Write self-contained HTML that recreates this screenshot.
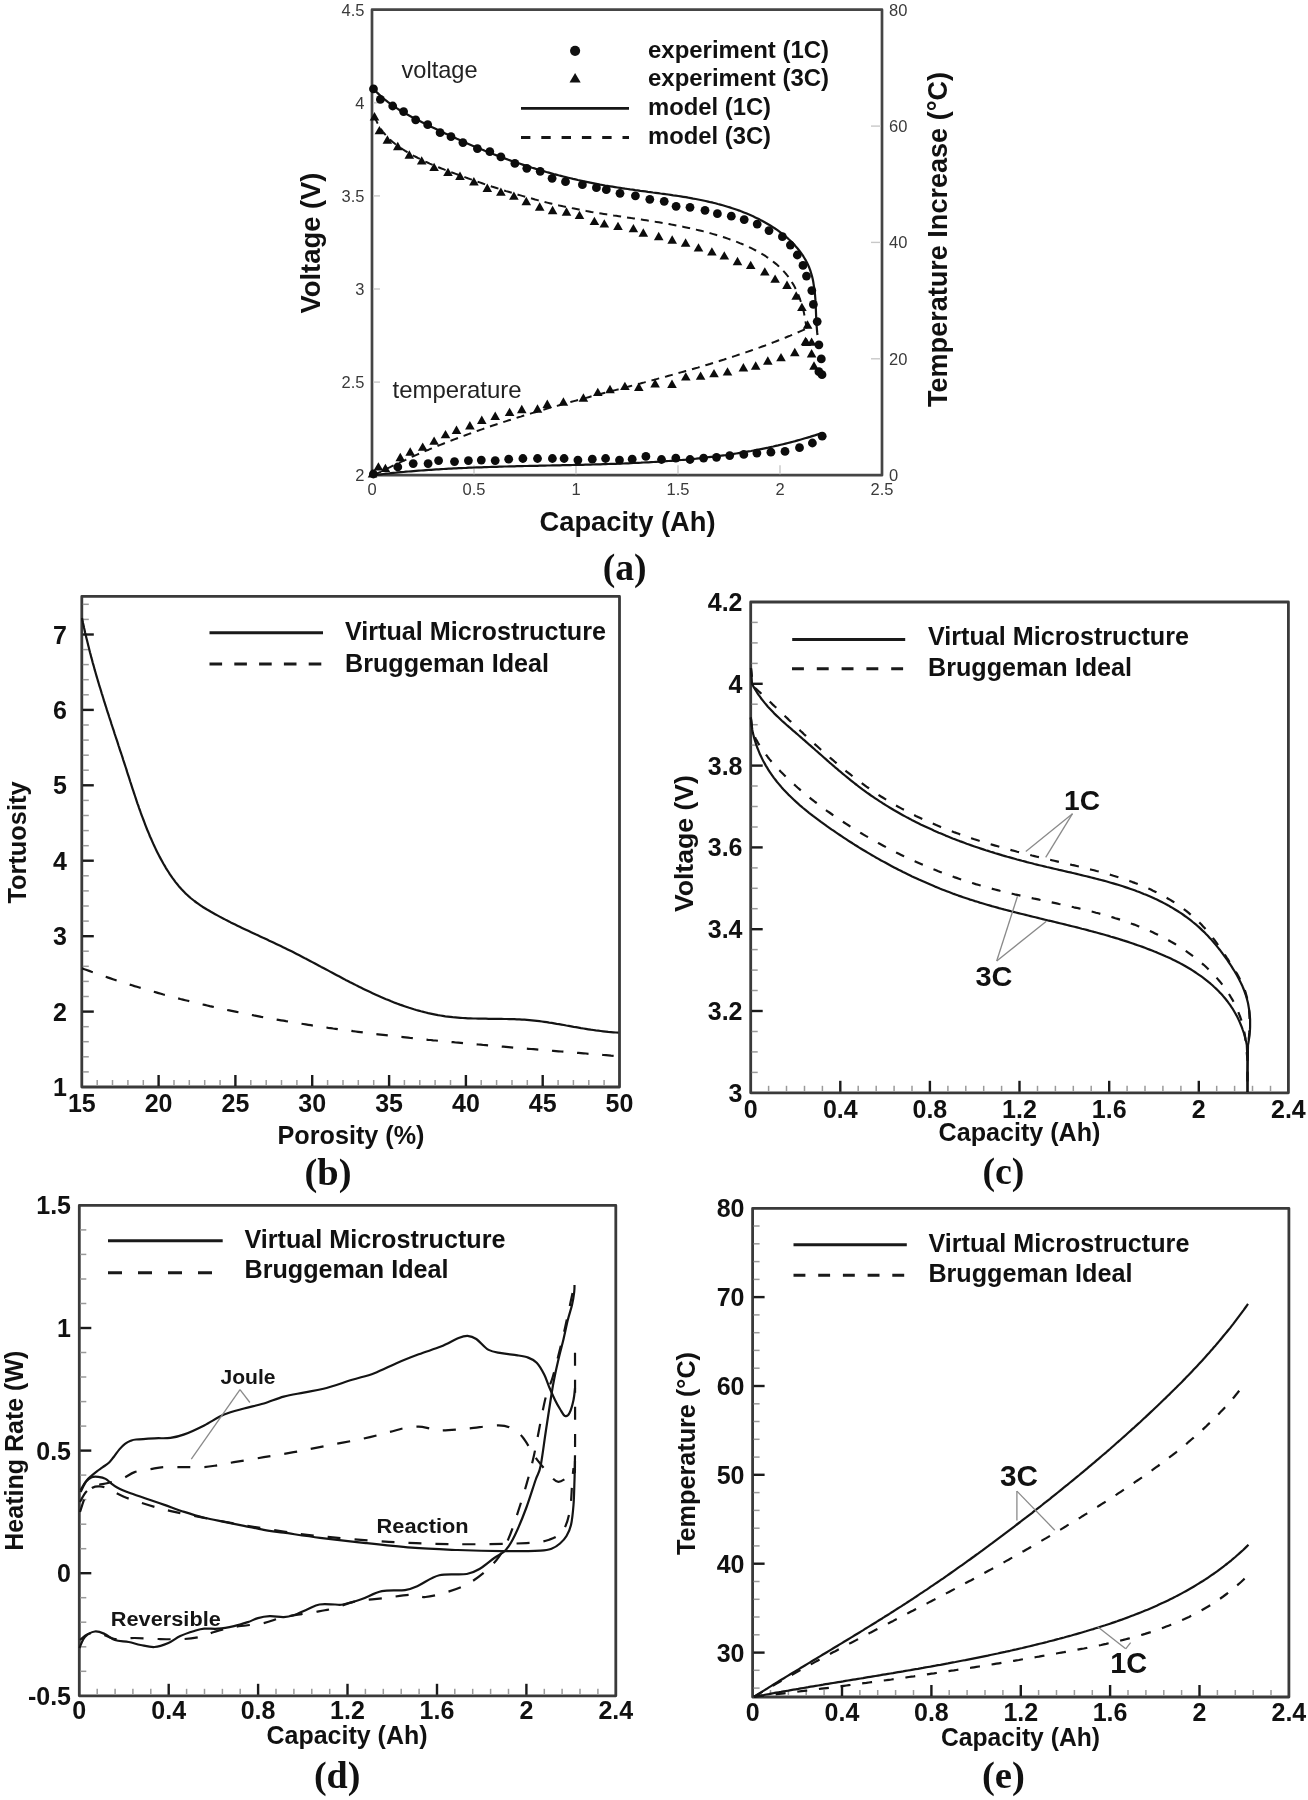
<!DOCTYPE html>
<html><head><meta charset="utf-8"><title>Figure</title>
<style>html,body{margin:0;padding:0;background:#fff;}svg{display:block;filter:blur(0.6px);}</style>
</head><body>
<svg width="1308" height="1800" viewBox="0 0 1308 1800">
<rect width="1308" height="1800" fill="#fff"/>
<rect x="372" y="9.7" width="510" height="465.5" fill="none" stroke="#454545" stroke-width="2.7" stroke-linejoin="round"/>
<line x1="373" y1="382.1" x2="380" y2="382.1" stroke="#c8c8c8" stroke-width="1.4" stroke-linecap="butt"/>
<line x1="373" y1="289" x2="380" y2="289" stroke="#c8c8c8" stroke-width="1.4" stroke-linecap="butt"/>
<line x1="373" y1="195.9" x2="380" y2="195.9" stroke="#c8c8c8" stroke-width="1.4" stroke-linecap="butt"/>
<line x1="373" y1="102.8" x2="380" y2="102.8" stroke="#c8c8c8" stroke-width="1.4" stroke-linecap="butt"/>
<line x1="474" y1="474.2" x2="474" y2="465.2" stroke="#c8c8c8" stroke-width="1.4" stroke-linecap="butt"/>
<line x1="576" y1="474.2" x2="576" y2="465.2" stroke="#c8c8c8" stroke-width="1.4" stroke-linecap="butt"/>
<line x1="678" y1="474.2" x2="678" y2="465.2" stroke="#c8c8c8" stroke-width="1.4" stroke-linecap="butt"/>
<line x1="780" y1="474.2" x2="780" y2="465.2" stroke="#c8c8c8" stroke-width="1.4" stroke-linecap="butt"/>
<line x1="881" y1="358.8" x2="871" y2="358.8" stroke="#c8c8c8" stroke-width="1.4" stroke-linecap="butt"/>
<line x1="881" y1="242.4" x2="871" y2="242.4" stroke="#c8c8c8" stroke-width="1.4" stroke-linecap="butt"/>
<line x1="881" y1="126.1" x2="871" y2="126.1" stroke="#c8c8c8" stroke-width="1.4" stroke-linecap="butt"/>
<text x="364.5" y="481.2" font-family="Liberation Sans, sans-serif" font-size="16.5" font-weight="normal" text-anchor="end" fill="#3a3a3a">2</text>
<text x="364.5" y="388.1" font-family="Liberation Sans, sans-serif" font-size="16.5" font-weight="normal" text-anchor="end" fill="#3a3a3a">2.5</text>
<text x="364.5" y="295" font-family="Liberation Sans, sans-serif" font-size="16.5" font-weight="normal" text-anchor="end" fill="#3a3a3a">3</text>
<text x="364.5" y="201.9" font-family="Liberation Sans, sans-serif" font-size="16.5" font-weight="normal" text-anchor="end" fill="#3a3a3a">3.5</text>
<text x="364.5" y="108.8" font-family="Liberation Sans, sans-serif" font-size="16.5" font-weight="normal" text-anchor="end" fill="#3a3a3a">4</text>
<text x="364.5" y="15.7" font-family="Liberation Sans, sans-serif" font-size="16.5" font-weight="normal" text-anchor="end" fill="#3a3a3a">4.5</text>
<text x="372" y="495.2" font-family="Liberation Sans, sans-serif" font-size="16.5" font-weight="normal" text-anchor="middle" fill="#3a3a3a">0</text>
<text x="474" y="495.2" font-family="Liberation Sans, sans-serif" font-size="16.5" font-weight="normal" text-anchor="middle" fill="#3a3a3a">0.5</text>
<text x="576" y="495.2" font-family="Liberation Sans, sans-serif" font-size="16.5" font-weight="normal" text-anchor="middle" fill="#3a3a3a">1</text>
<text x="678" y="495.2" font-family="Liberation Sans, sans-serif" font-size="16.5" font-weight="normal" text-anchor="middle" fill="#3a3a3a">1.5</text>
<text x="780" y="495.2" font-family="Liberation Sans, sans-serif" font-size="16.5" font-weight="normal" text-anchor="middle" fill="#3a3a3a">2</text>
<text x="882" y="495.2" font-family="Liberation Sans, sans-serif" font-size="16.5" font-weight="normal" text-anchor="middle" fill="#3a3a3a">2.5</text>
<text x="889" y="481.2" font-family="Liberation Sans, sans-serif" font-size="16.5" font-weight="normal" text-anchor="start" fill="#3a3a3a">0</text>
<text x="889" y="364.8" font-family="Liberation Sans, sans-serif" font-size="16.5" font-weight="normal" text-anchor="start" fill="#3a3a3a">20</text>
<text x="889" y="248.4" font-family="Liberation Sans, sans-serif" font-size="16.5" font-weight="normal" text-anchor="start" fill="#3a3a3a">40</text>
<text x="889" y="132.1" font-family="Liberation Sans, sans-serif" font-size="16.5" font-weight="normal" text-anchor="start" fill="#3a3a3a">60</text>
<text x="889" y="15.7" font-family="Liberation Sans, sans-serif" font-size="16.5" font-weight="normal" text-anchor="start" fill="#3a3a3a">80</text>
<text x="627.5" y="530.5" font-family="Liberation Sans, sans-serif" font-size="27" font-weight="bold" text-anchor="middle" fill="#111" textLength="176" lengthAdjust="spacingAndGlyphs">Capacity (Ah)</text>
<text x="319.8" y="243" font-family="Liberation Sans, sans-serif" font-size="27" font-weight="bold" text-anchor="middle" fill="#111" textLength="141" lengthAdjust="spacingAndGlyphs" transform="rotate(-90 319.8 243)">Voltage (V)</text>
<text x="946.5" y="239.5" font-family="Liberation Sans, sans-serif" font-size="27" font-weight="bold" text-anchor="middle" fill="#111" textLength="335" lengthAdjust="spacingAndGlyphs" transform="rotate(-90 946.5 239.5)">Temperature Increase (&#176;C)</text>
<text x="624.7" y="580.3" font-family="Liberation Serif, sans-serif" font-size="37" font-weight="bold" text-anchor="middle" fill="#111" textLength="44" lengthAdjust="spacingAndGlyphs">(a)</text>
<text x="401.5" y="78" font-family="Liberation Sans, sans-serif" font-size="24" font-weight="normal" text-anchor="start" fill="#222" textLength="76" lengthAdjust="spacingAndGlyphs">voltage</text>
<text x="392.5" y="397.5" font-family="Liberation Sans, sans-serif" font-size="24" font-weight="normal" text-anchor="start" fill="#222" textLength="129" lengthAdjust="spacingAndGlyphs">temperature</text>
<text x="648" y="57.6" font-family="Liberation Sans, sans-serif" font-size="24" font-weight="bold" text-anchor="start" fill="#111" textLength="181" lengthAdjust="spacingAndGlyphs">experiment (1C)</text>
<text x="648" y="86.2" font-family="Liberation Sans, sans-serif" font-size="24" font-weight="bold" text-anchor="start" fill="#111" textLength="181" lengthAdjust="spacingAndGlyphs">experiment (3C)</text>
<text x="648" y="115" font-family="Liberation Sans, sans-serif" font-size="24" font-weight="bold" text-anchor="start" fill="#111" textLength="123" lengthAdjust="spacingAndGlyphs">model (1C)</text>
<text x="648" y="143.8" font-family="Liberation Sans, sans-serif" font-size="24" font-weight="bold" text-anchor="start" fill="#111" textLength="123" lengthAdjust="spacingAndGlyphs">model (3C)</text>
<circle cx="575.1" cy="50.8" r="5.1" fill="#111"/>
<path d="M569.5,82.6 L580.7,82.6 L575.1,73 Z" fill="#111"/>
<line x1="521" y1="108.4" x2="629" y2="108.4" stroke="#161616" stroke-width="2.8" stroke-linecap="butt"/>
<line x1="521" y1="137.5" x2="629" y2="137.5" stroke="#161616" stroke-width="2.8" stroke-dasharray="9.4 10.9" stroke-linecap="butt"/>
<path d="M373.5,88.8 L375.2,90.6 L376.9,92.4 L378.7,94.1 L380.5,95.8 L382.4,97.5 L384.2,99.1 L386.2,100.6 L388.1,102.1 L390.1,103.6 L392.1,105 L394.1,106.4 L396.2,107.8 L398.3,109.2 L400.4,110.5 L402.5,111.8 L404.7,113 L406.9,114.3 L409.1,115.5 L411.3,116.7 L413.5,117.9 L415.7,119 L418,120.2 L420.2,121.3 L422.5,122.5 L424.7,123.6 L427,124.7 L429.3,125.8 L431.6,126.9 L433.9,128 L436.1,129.1 L438.4,130.2 L440.7,131.3 L443,132.4 L445.3,133.5 L447.6,134.6 L449.9,135.6 L452.2,136.7 L454.6,137.7 L456.9,138.8 L459.2,139.8 L461.5,140.9 L463.8,141.9 L466.1,142.9 L468.5,143.9 L470.8,144.9 L473.1,145.9 L475.5,146.9 L477.8,147.9 L480.1,148.9 L482.5,149.8 L484.8,150.8 L487.2,151.7 L489.5,152.6 L491.9,153.6 L494.2,154.5 L496.6,155.4 L498.9,156.3 L501.3,157.2 L503.6,158 L506,158.9 L508.3,159.7 L510.7,160.6 L513.1,161.4 L515.4,162.2 L517.8,163 L520.2,163.8 L522.6,164.6 L524.9,165.4 L527.3,166.2 L529.7,166.9 L532.1,167.7 L534.5,168.4 L536.8,169.2 L539.2,169.9 L541.6,170.6 L544,171.3 L546.4,172 L548.8,172.6 L551.2,173.3 L553.7,174 L556.1,174.6 L558.5,175.3 L560.9,175.9 L563.3,176.5 L565.7,177.1 L568.2,177.7 L570.6,178.3 L573,178.9 L575.5,179.4 L577.9,180 L580.4,180.5 L582.8,181.1 L585.3,181.6 L587.7,182.1 L590.2,182.6 L592.7,183.1 L595.1,183.6 L597.6,184.1 L600.1,184.6 L602.6,185 L605.1,185.5 L607.5,185.9 L610,186.3 L612.5,186.7 L615,187.1 L617.5,187.5 L620.1,187.9 L622.6,188.3 L625.1,188.7 L627.6,189 L630.1,189.4 L632.7,189.7 L635.2,190.1 L637.7,190.4 L640.3,190.8 L642.8,191.1 L645.3,191.4 L647.9,191.8 L650.4,192.1 L652.9,192.5 L655.5,192.8 L658,193.1 L660.5,193.5 L663.1,193.8 L665.6,194.2 L668.1,194.5 L670.7,194.9 L673.2,195.3 L675.7,195.6 L678.2,196 L680.7,196.4 L683.2,196.8 L685.8,197.2 L688.3,197.7 L690.8,198.1 L693.2,198.6 L695.7,199 L698.2,199.5 L700.7,200 L703.2,200.5 L705.6,201 L708.1,201.6 L710.5,202.2 L713,202.7 L715.4,203.3 L717.8,204 L720.3,204.6 L722.7,205.3 L725.1,206 L727.5,206.7 L729.8,207.4 L732.2,208.2 L734.6,209 L736.9,209.8 L739.3,210.6 L741.6,211.5 L743.9,212.4 L746.2,213.3 L748.5,214.3 L750.8,215.3 L753.1,216.3 L755.3,217.4 L757.6,218.5 L759.8,219.6 L762,220.8 L764.2,222 L766.4,223.2 L768.6,224.5 L770.7,225.8 L772.9,227.1 L775,228.5 L777.1,229.9 L779.1,231.4 L781.1,232.9 L783.1,234.4 L785.1,236 L787,237.6 L788.8,239.3 L790.7,241 L792.4,242.8 L794.2,244.5 L795.8,246.4 L797.4,248.2 L799,250.2 L800.5,252.1 L801.9,254.1 L803.3,256.2 L804.5,258.2 L805.8,260.4 L806.9,262.5 L808,264.8 L809,267 L809.9,269.3 L810.7,271.7 L811.4,274.1 L812.1,276.5 L812.7,279 L813.2,281.5 L813.6,284.1 L814,286.6 L814.4,289.2 L814.7,291.8 L815,294.4 L815.2,297 L815.4,299.7 L815.5,302.3 L815.7,304.9 L815.8,307.5 L815.9,310.2 L816,312.8 L816.1,315.3 L816.2,317.9 L816.4,320.4 L816.5,323 L816.6,325.4 L816.8,327.9 L817,330.3 L817.2,332.7 L817.5,335" fill="none" stroke="#141414" stroke-width="2.2" stroke-linejoin="round" />
<path d="M374.5,116.3 L375.4,118.8 L376.5,121.1 L377.6,123.4 L378.8,125.6 L380.1,127.7 L381.5,129.8 L382.9,131.8 L384.5,133.7 L386.1,135.5 L387.7,137.3 L389.5,139 L391.3,140.7 L393.1,142.3 L395,143.8 L397,145.3 L399,146.8 L401,148.2 L403.1,149.5 L405.2,150.9 L407.3,152.2 L409.5,153.4 L411.7,154.7 L413.9,155.9 L416.1,157 L418.3,158.2 L420.6,159.3 L422.8,160.4 L425.1,161.5 L427.4,162.5 L429.7,163.6 L432.1,164.6 L434.4,165.6 L436.8,166.6 L439.1,167.5 L441.5,168.5 L443.9,169.4 L446.2,170.3 L448.6,171.3 L451,172.2 L453.4,173 L455.8,173.9 L458.2,174.8 L460.6,175.7 L463,176.5 L465.4,177.4 L467.8,178.3 L470.2,179.1 L472.6,179.9 L475,180.8 L477.3,181.6 L479.7,182.4 L482.1,183.2 L484.5,184.1 L486.9,184.9 L489.3,185.7 L491.7,186.5 L494.1,187.2 L496.5,188 L498.9,188.8 L501.3,189.6 L503.7,190.3 L506.1,191.1 L508.5,191.8 L510.9,192.5 L513.3,193.3 L515.7,194 L518.1,194.7 L520.5,195.4 L523,196.1 L525.4,196.8 L527.8,197.5 L530.2,198.1 L532.6,198.8 L535,199.5 L537.5,200.1 L539.9,200.7 L542.3,201.4 L544.7,202 L547.2,202.6 L549.6,203.2 L552,203.8 L554.5,204.4 L556.9,204.9 L559.3,205.5 L561.8,206 L564.2,206.6 L566.7,207.1 L569.1,207.6 L571.6,208.1 L574.1,208.6 L576.5,209.1 L579,209.6 L581.5,210.1 L583.9,210.5 L586.4,211 L588.9,211.4 L591.4,211.9 L593.8,212.3 L596.3,212.7 L598.8,213.1 L601.3,213.5 L603.8,213.9 L606.3,214.3 L608.8,214.7 L611.3,215.1 L613.8,215.5 L616.3,215.8 L618.8,216.2 L621.3,216.6 L623.8,216.9 L626.3,217.3 L628.8,217.7 L631.3,218.1 L633.8,218.4 L636.3,218.8 L638.8,219.2 L641.4,219.5 L643.9,219.9 L646.4,220.3 L648.9,220.7 L651.4,221.1 L653.9,221.5 L656.4,221.9 L658.9,222.3 L661.4,222.7 L663.9,223.1 L666.4,223.6 L668.9,224 L671.4,224.5 L673.9,224.9 L676.3,225.4 L678.8,225.9 L681.3,226.4 L683.8,226.9 L686.3,227.4 L688.7,227.9 L691.2,228.5 L693.7,229 L696.1,229.6 L698.6,230.2 L701.1,230.8 L703.5,231.4 L706,232 L708.4,232.7 L710.9,233.4 L713.3,234.1 L715.7,234.8 L718.1,235.5 L720.6,236.3 L723,237 L725.4,237.8 L727.8,238.6 L730.2,239.5 L732.6,240.3 L735,241.2 L737.4,242.1 L739.7,243.1 L742.1,244 L744.4,245 L746.7,246.1 L749,247.1 L751.3,248.2 L753.6,249.3 L755.8,250.5 L758,251.7 L760.2,252.9 L762.3,254.1 L764.5,255.4 L766.5,256.8 L768.6,258.2 L770.6,259.6 L772.5,261.1 L774.4,262.6 L776.3,264.1 L778.1,265.7 L779.9,267.4 L781.6,269.1 L783.3,270.9 L784.9,272.7 L786.5,274.5 L788,276.4 L789.4,278.4 L790.8,280.4 L792.1,282.5 L793.4,284.6 L794.6,286.8 L795.7,289 L796.8,291.2 L797.8,293.5 L798.8,295.9 L799.7,298.3 L800.5,300.7 L801.3,303.1 L802.1,305.6 L802.7,308.1 L803.4,310.6 L804,313.1 L804.5,315.7 L805,318.2 L805.4,320.8 L805.8,323.4 L806.2,326 L806.5,328.6" fill="none" stroke="#141414" stroke-width="2" stroke-dasharray="8 6" stroke-linejoin="round" />
<path d="M373.9,475.2 L376.1,474 L378.4,472.9 L380.7,471.8 L382.9,470.6 L385.2,469.5 L387.4,468.4 L389.7,467.3 L392,466.2 L394.2,465.1 L396.5,464 L398.8,462.9 L401.1,461.9 L403.4,460.8 L405.7,459.8 L407.9,458.7 L410.2,457.7 L412.5,456.6 L414.8,455.6 L417.1,454.6 L419.4,453.6 L421.7,452.6 L424.1,451.6 L426.4,450.6 L428.7,449.7 L431,448.7 L433.3,447.7 L435.7,446.8 L438,445.8 L440.3,444.9 L442.6,444 L445,443 L447.3,442.1 L449.6,441.2 L452,440.3 L454.3,439.4 L456.7,438.5 L459,437.6 L461.4,436.7 L463.7,435.9 L466.1,435 L468.4,434.1 L470.8,433.3 L473.2,432.4 L475.5,431.6 L477.9,430.7 L480.3,429.9 L482.6,429.1 L485,428.3 L487.4,427.4 L489.7,426.6 L492.1,425.8 L494.5,425 L496.9,424.2 L499.3,423.4 L501.7,422.7 L504,421.9 L506.4,421.1 L508.8,420.3 L511.2,419.6 L513.6,418.8 L516,418.1 L518.4,417.3 L520.8,416.6 L523.2,415.8 L525.6,415.1 L528,414.3 L530.4,413.6 L532.8,412.9 L535.2,412.2 L537.6,411.5 L540,410.7 L542.5,410 L544.9,409.3 L547.3,408.6 L549.7,407.9 L552.1,407.2 L554.5,406.6 L557,405.9 L559.4,405.2 L561.8,404.5 L564.2,403.8 L566.6,403.2 L569.1,402.5 L571.5,401.8 L573.9,401.1 L576.3,400.5 L578.8,399.8 L581.2,399.2 L583.6,398.5 L586.1,397.9 L588.5,397.2 L590.9,396.5 L593.4,395.9 L595.8,395.3 L598.2,394.6 L600.7,394 L603.1,393.3 L605.5,392.7 L608,392 L610.4,391.4 L612.8,390.7 L615.3,390.1 L617.7,389.5 L620.1,388.8 L622.6,388.2 L625,387.5 L627.4,386.9 L629.9,386.2 L632.3,385.6 L634.7,385 L637.2,384.3 L639.6,383.7 L642,383 L644.5,382.4 L646.9,381.7 L649.3,381.1 L651.8,380.4 L654.2,379.8 L656.6,379.1 L659,378.4 L661.5,377.8 L663.9,377.1 L666.3,376.5 L668.7,375.8 L671.2,375.1 L673.6,374.5 L676,373.8 L678.4,373.1 L680.9,372.4 L683.3,371.7 L685.7,371 L688.1,370.4 L690.5,369.7 L692.9,369 L695.4,368.3 L697.8,367.6 L700.2,366.8 L702.6,366.1 L705,365.4 L707.4,364.7 L709.8,364 L712.2,363.2 L714.6,362.5 L717,361.7 L719.4,361 L721.8,360.2 L724.2,359.5 L726.6,358.7 L729,358 L731.4,357.2 L733.8,356.4 L736.1,355.6 L738.5,354.8 L740.9,354 L743.3,353.2 L745.7,352.4 L748,351.6 L750.4,350.8 L752.8,349.9 L755.1,349.1 L757.5,348.2 L759.9,347.4 L762.2,346.5 L764.6,345.7 L766.9,344.8 L769.3,343.9 L771.6,343 L774,342.1 L776.3,341.2 L778.7,340.3 L781,339.4 L783.3,338.4 L785.7,337.5 L788,336.5 L790.3,335.6 L792.6,334.6 L795,333.6 L797.3,332.6 L799.6,331.6 L801.9,330.6 L804.2,329.6 L806.5,328.6" fill="none" stroke="#141414" stroke-width="2" stroke-dasharray="8 6" stroke-linejoin="round" />
<path d="M373.4,475.2 L375.9,474.9 L378.4,474.6 L380.9,474.3 L383.4,474 L385.9,473.7 L388.4,473.5 L390.9,473.2 L393.4,472.9 L395.9,472.7 L398.4,472.4 L400.9,472.2 L403.5,472 L406,471.7 L408.5,471.5 L411,471.3 L413.5,471.1 L416,470.9 L418.5,470.7 L421,470.5 L423.6,470.3 L426.1,470.1 L428.6,469.9 L431.1,469.8 L433.6,469.6 L436.2,469.4 L438.7,469.3 L441.2,469.1 L443.7,469 L446.2,468.8 L448.8,468.7 L451.3,468.6 L453.8,468.4 L456.3,468.3 L458.9,468.2 L461.4,468.1 L463.9,468 L466.4,467.9 L469,467.7 L471.5,467.6 L474,467.5 L476.5,467.4 L479.1,467.3 L481.6,467.3 L484.1,467.2 L486.7,467.1 L489.2,467 L491.7,466.9 L494.2,466.8 L496.8,466.8 L499.3,466.7 L501.8,466.6 L504.4,466.5 L506.9,466.5 L509.4,466.4 L512,466.3 L514.5,466.3 L517,466.2 L519.6,466.2 L522.1,466.1 L524.6,466 L527.2,466 L529.7,465.9 L532.2,465.9 L534.8,465.8 L537.3,465.8 L539.8,465.7 L542.4,465.7 L544.9,465.6 L547.4,465.5 L550,465.5 L552.5,465.4 L555,465.4 L557.6,465.3 L560.1,465.3 L562.6,465.2 L565.2,465.2 L567.7,465.1 L570.2,465.1 L572.8,465 L575.3,464.9 L577.8,464.9 L580.4,464.8 L582.9,464.8 L585.4,464.7 L588,464.6 L590.5,464.6 L593,464.5 L595.5,464.4 L598.1,464.3 L600.6,464.3 L603.1,464.2 L605.7,464.1 L608.2,464 L610.7,463.9 L613.2,463.9 L615.8,463.8 L618.3,463.7 L620.8,463.6 L623.4,463.5 L625.9,463.4 L628.4,463.3 L630.9,463.2 L633.5,463 L636,462.9 L638.5,462.8 L641,462.7 L643.5,462.5 L646.1,462.4 L648.6,462.3 L651.1,462.1 L653.6,462 L656.1,461.8 L658.7,461.7 L661.2,461.5 L663.7,461.3 L666.2,461.2 L668.7,461 L671.2,460.8 L673.8,460.6 L676.3,460.4 L678.8,460.2 L681.3,460 L683.8,459.8 L686.3,459.6 L688.8,459.3 L691.3,459.1 L693.8,458.8 L696.3,458.6 L698.8,458.3 L701.3,458.1 L703.8,457.8 L706.3,457.5 L708.8,457.2 L711.3,456.9 L713.8,456.6 L716.3,456.3 L718.8,456 L721.3,455.7 L723.8,455.3 L726.3,455 L728.8,454.6 L731.2,454.2 L733.7,453.9 L736.2,453.5 L738.7,453.1 L741.2,452.7 L743.7,452.3 L746.1,451.9 L748.6,451.4 L751.1,451 L753.5,450.5 L756,450.1 L758.5,449.6 L761,449.1 L763.4,448.6 L765.9,448.1 L768.3,447.6 L770.8,447 L773.3,446.5 L775.7,445.9 L778.2,445.4 L780.6,444.8 L783.1,444.2 L785.5,443.6 L788,443 L790.4,442.4 L792.9,441.7 L795.3,441.1 L797.7,440.4 L800.2,439.7 L802.6,439 L805,438.3 L807.5,437.6 L809.9,436.9 L812.3,436.1 L814.7,435.4 L817.2,434.6 L819.6,433.8 L822,433" fill="none" stroke="#141414" stroke-width="2.2" stroke-linejoin="round" />
<circle cx="373.5" cy="88.9" r="4.4" fill="#0c0c0c"/>
<circle cx="380.4" cy="99.4" r="4.4" fill="#0c0c0c"/>
<circle cx="392.7" cy="106" r="4.4" fill="#0c0c0c"/>
<circle cx="403.6" cy="111.6" r="4.4" fill="#0c0c0c"/>
<circle cx="415.7" cy="119.8" r="4.4" fill="#0c0c0c"/>
<circle cx="427.7" cy="124.7" r="4.4" fill="#0c0c0c"/>
<circle cx="440.1" cy="132.7" r="4.4" fill="#0c0c0c"/>
<circle cx="451" cy="136.7" r="4.4" fill="#0c0c0c"/>
<circle cx="462.9" cy="142.6" r="4.4" fill="#0c0c0c"/>
<circle cx="477.4" cy="148.6" r="4.4" fill="#0c0c0c"/>
<circle cx="489.8" cy="151.6" r="4.4" fill="#0c0c0c"/>
<circle cx="500.9" cy="156.9" r="4.4" fill="#0c0c0c"/>
<circle cx="514.9" cy="163.4" r="4.4" fill="#0c0c0c"/>
<circle cx="526.8" cy="168.3" r="4.4" fill="#0c0c0c"/>
<circle cx="540.2" cy="171.3" r="4.4" fill="#0c0c0c"/>
<circle cx="552.1" cy="178.3" r="4.4" fill="#0c0c0c"/>
<circle cx="565.5" cy="181.7" r="4.4" fill="#0c0c0c"/>
<circle cx="582.4" cy="184.7" r="4.4" fill="#0c0c0c"/>
<circle cx="596.4" cy="187.7" r="4.4" fill="#0c0c0c"/>
<circle cx="606.3" cy="189.7" r="4.4" fill="#0c0c0c"/>
<circle cx="620" cy="193.3" r="4.4" fill="#0c0c0c"/>
<circle cx="635.4" cy="195.8" r="4.4" fill="#0c0c0c"/>
<circle cx="649.8" cy="199.3" r="4.4" fill="#0c0c0c"/>
<circle cx="664.2" cy="201.3" r="4.4" fill="#0c0c0c"/>
<circle cx="676.1" cy="206.3" r="4.4" fill="#0c0c0c"/>
<circle cx="690" cy="207.3" r="4.4" fill="#0c0c0c"/>
<circle cx="705" cy="210.3" r="4.4" fill="#0c0c0c"/>
<circle cx="717.4" cy="213.7" r="4.4" fill="#0c0c0c"/>
<circle cx="731.3" cy="216.2" r="4.4" fill="#0c0c0c"/>
<circle cx="744.2" cy="219.6" r="4.4" fill="#0c0c0c"/>
<circle cx="757.2" cy="224.1" r="4.4" fill="#0c0c0c"/>
<circle cx="769" cy="230.6" r="4.4" fill="#0c0c0c"/>
<circle cx="782.4" cy="236.7" r="4.4" fill="#0c0c0c"/>
<circle cx="790.4" cy="245.1" r="4.4" fill="#0c0c0c"/>
<circle cx="797.3" cy="255" r="4.4" fill="#0c0c0c"/>
<circle cx="803" cy="265.4" r="4.4" fill="#0c0c0c"/>
<circle cx="806.5" cy="276.1" r="4.4" fill="#0c0c0c"/>
<circle cx="811.8" cy="290.6" r="4.4" fill="#0c0c0c"/>
<circle cx="813.4" cy="304.4" r="4.4" fill="#0c0c0c"/>
<circle cx="817.2" cy="321.6" r="4.4" fill="#0c0c0c"/>
<circle cx="818.9" cy="344.8" r="4.4" fill="#0c0c0c"/>
<circle cx="821.3" cy="358.9" r="4.4" fill="#0c0c0c"/>
<circle cx="818.9" cy="371.7" r="4.4" fill="#0c0c0c"/>
<circle cx="822" cy="374.7" r="4.4" fill="#0c0c0c"/>
<circle cx="373.4" cy="474" r="4.4" fill="#0c0c0c"/>
<circle cx="397.8" cy="467" r="4.4" fill="#0c0c0c"/>
<circle cx="413.2" cy="463.6" r="4.4" fill="#0c0c0c"/>
<circle cx="428.1" cy="463.6" r="4.4" fill="#0c0c0c"/>
<circle cx="438.6" cy="460.6" r="4.4" fill="#0c0c0c"/>
<circle cx="454.5" cy="461.6" r="4.4" fill="#0c0c0c"/>
<circle cx="468.4" cy="460.6" r="4.4" fill="#0c0c0c"/>
<circle cx="481.3" cy="460.1" r="4.4" fill="#0c0c0c"/>
<circle cx="495.2" cy="460.6" r="4.4" fill="#0c0c0c"/>
<circle cx="508.7" cy="459.2" r="4.4" fill="#0c0c0c"/>
<circle cx="522.9" cy="458.5" r="4.4" fill="#0c0c0c"/>
<circle cx="537.5" cy="458.5" r="4.4" fill="#0c0c0c"/>
<circle cx="552.4" cy="458.5" r="4.4" fill="#0c0c0c"/>
<circle cx="564.1" cy="458.5" r="4.4" fill="#0c0c0c"/>
<circle cx="577.9" cy="460.1" r="4.4" fill="#0c0c0c"/>
<circle cx="592.3" cy="459.2" r="4.4" fill="#0c0c0c"/>
<circle cx="605.6" cy="458.5" r="4.4" fill="#0c0c0c"/>
<circle cx="619.5" cy="460.1" r="4.4" fill="#0c0c0c"/>
<circle cx="632.2" cy="459.2" r="4.4" fill="#0c0c0c"/>
<circle cx="645.9" cy="456.4" r="4.4" fill="#0c0c0c"/>
<circle cx="661.5" cy="459.5" r="4.4" fill="#0c0c0c"/>
<circle cx="675.8" cy="458.1" r="4.4" fill="#0c0c0c"/>
<circle cx="690" cy="459.5" r="4.4" fill="#0c0c0c"/>
<circle cx="703.6" cy="458.1" r="4.4" fill="#0c0c0c"/>
<circle cx="716.5" cy="457.3" r="4.4" fill="#0c0c0c"/>
<circle cx="729.7" cy="455.6" r="4.4" fill="#0c0c0c"/>
<circle cx="743.8" cy="454.4" r="4.4" fill="#0c0c0c"/>
<circle cx="756.9" cy="453.1" r="4.4" fill="#0c0c0c"/>
<circle cx="770.9" cy="452.2" r="4.4" fill="#0c0c0c"/>
<circle cx="785" cy="451.4" r="4.4" fill="#0c0c0c"/>
<circle cx="799.5" cy="447.7" r="4.4" fill="#0c0c0c"/>
<circle cx="812.4" cy="443" r="4.4" fill="#0c0c0c"/>
<circle cx="822.2" cy="436.2" r="4.4" fill="#0c0c0c"/>
<path d="M374.5,112 l4.8,8.4 l-9.6,0 Z" fill="#0c0c0c"/>
<path d="M379.4,125.9 l4.8,8.4 l-9.6,0 Z" fill="#0c0c0c"/>
<path d="M387.4,135.3 l4.8,8.4 l-9.6,0 Z" fill="#0c0c0c"/>
<path d="M397.8,141.8 l4.8,8.4 l-9.6,0 Z" fill="#0c0c0c"/>
<path d="M409.3,150.3 l4.8,8.4 l-9.6,0 Z" fill="#0c0c0c"/>
<path d="M421.7,156.2 l4.8,8.4 l-9.6,0 Z" fill="#0c0c0c"/>
<path d="M434.1,162.7 l4.8,8.4 l-9.6,0 Z" fill="#0c0c0c"/>
<path d="M448,167.7 l4.8,8.4 l-9.6,0 Z" fill="#0c0c0c"/>
<path d="M460,171.6 l4.8,8.4 l-9.6,0 Z" fill="#0c0c0c"/>
<path d="M473.9,177.1 l4.8,8.4 l-9.6,0 Z" fill="#0c0c0c"/>
<path d="M487.3,183.6 l4.8,8.4 l-9.6,0 Z" fill="#0c0c0c"/>
<path d="M500.9,187.4 l4.8,8.4 l-9.6,0 Z" fill="#0c0c0c"/>
<path d="M513.9,191.4 l4.8,8.4 l-9.6,0 Z" fill="#0c0c0c"/>
<path d="M526.3,196.8 l4.8,8.4 l-9.6,0 Z" fill="#0c0c0c"/>
<path d="M539.7,202.3 l4.8,8.4 l-9.6,0 Z" fill="#0c0c0c"/>
<path d="M552.6,205.8 l4.8,8.4 l-9.6,0 Z" fill="#0c0c0c"/>
<path d="M566.5,207.3 l4.8,8.4 l-9.6,0 Z" fill="#0c0c0c"/>
<path d="M579.5,210.7 l4.8,8.4 l-9.6,0 Z" fill="#0c0c0c"/>
<path d="M594.4,216.7 l4.8,8.4 l-9.6,0 Z" fill="#0c0c0c"/>
<path d="M604.3,219.2 l4.8,8.4 l-9.6,0 Z" fill="#0c0c0c"/>
<path d="M618,221.7 l4.8,8.4 l-9.6,0 Z" fill="#0c0c0c"/>
<path d="M633.4,223.9 l4.8,8.4 l-9.6,0 Z" fill="#0c0c0c"/>
<path d="M643.3,228.3 l4.8,8.4 l-9.6,0 Z" fill="#0c0c0c"/>
<path d="M658.7,231.8 l4.8,8.4 l-9.6,0 Z" fill="#0c0c0c"/>
<path d="M672.2,235.3 l4.8,8.4 l-9.6,0 Z" fill="#0c0c0c"/>
<path d="M685.6,238.3 l4.8,8.4 l-9.6,0 Z" fill="#0c0c0c"/>
<path d="M698.5,243.2 l4.8,8.4 l-9.6,0 Z" fill="#0c0c0c"/>
<path d="M711.9,247.2 l4.8,8.4 l-9.6,0 Z" fill="#0c0c0c"/>
<path d="M724.3,251.2 l4.8,8.4 l-9.6,0 Z" fill="#0c0c0c"/>
<path d="M737.5,256.8 l4.8,8.4 l-9.6,0 Z" fill="#0c0c0c"/>
<path d="M750.7,260.7 l4.8,8.4 l-9.6,0 Z" fill="#0c0c0c"/>
<path d="M764.8,267.2 l4.8,8.4 l-9.6,0 Z" fill="#0c0c0c"/>
<path d="M775.1,274.4 l4.8,8.4 l-9.6,0 Z" fill="#0c0c0c"/>
<path d="M787,280.6 l4.8,8.4 l-9.6,0 Z" fill="#0c0c0c"/>
<path d="M796.2,291.3 l4.8,8.4 l-9.6,0 Z" fill="#0c0c0c"/>
<path d="M801.9,302.7 l4.8,8.4 l-9.6,0 Z" fill="#0c0c0c"/>
<path d="M807.6,320.3 l4.8,8.4 l-9.6,0 Z" fill="#0c0c0c"/>
<path d="M805.5,336.8 l4.8,8.4 l-9.6,0 Z" fill="#0c0c0c"/>
<path d="M811.6,337.4 l4.8,8.4 l-9.6,0 Z" fill="#0c0c0c"/>
<path d="M811.6,349.1 l4.8,8.4 l-9.6,0 Z" fill="#0c0c0c"/>
<path d="M814,361.3 l4.8,8.4 l-9.6,0 Z" fill="#0c0c0c"/>
<path d="M372.5,469.2 l4.8,8.4 l-9.6,0 Z" fill="#0c0c0c"/>
<path d="M378.4,462.2 l4.8,8.4 l-9.6,0 Z" fill="#0c0c0c"/>
<path d="M385.4,463.7 l4.8,8.4 l-9.6,0 Z" fill="#0c0c0c"/>
<path d="M400.3,452.8 l4.8,8.4 l-9.6,0 Z" fill="#0c0c0c"/>
<path d="M410.2,447.3 l4.8,8.4 l-9.6,0 Z" fill="#0c0c0c"/>
<path d="M422.7,442.4 l4.8,8.4 l-9.6,0 Z" fill="#0c0c0c"/>
<path d="M434.1,436.4 l4.8,8.4 l-9.6,0 Z" fill="#0c0c0c"/>
<path d="M445.5,429.9 l4.8,8.4 l-9.6,0 Z" fill="#0c0c0c"/>
<path d="M456.5,425.5 l4.8,8.4 l-9.6,0 Z" fill="#0c0c0c"/>
<path d="M469.9,421 l4.8,8.4 l-9.6,0 Z" fill="#0c0c0c"/>
<path d="M481.8,415.5 l4.8,8.4 l-9.6,0 Z" fill="#0c0c0c"/>
<path d="M495.2,411.5 l4.8,8.4 l-9.6,0 Z" fill="#0c0c0c"/>
<path d="M509.6,407.7 l4.8,8.4 l-9.6,0 Z" fill="#0c0c0c"/>
<path d="M521.8,404.8 l4.8,8.4 l-9.6,0 Z" fill="#0c0c0c"/>
<path d="M537.5,404.3 l4.8,8.4 l-9.6,0 Z" fill="#0c0c0c"/>
<path d="M547.3,399.5 l4.8,8.4 l-9.6,0 Z" fill="#0c0c0c"/>
<path d="M563.4,397.3 l4.8,8.4 l-9.6,0 Z" fill="#0c0c0c"/>
<path d="M583.4,393.3 l4.8,8.4 l-9.6,0 Z" fill="#0c0c0c"/>
<path d="M597.8,387.7 l4.8,8.4 l-9.6,0 Z" fill="#0c0c0c"/>
<path d="M610,384.8 l4.8,8.4 l-9.6,0 Z" fill="#0c0c0c"/>
<path d="M624.9,381.7 l4.8,8.4 l-9.6,0 Z" fill="#0c0c0c"/>
<path d="M638.8,382.6 l4.8,8.4 l-9.6,0 Z" fill="#0c0c0c"/>
<path d="M655.1,379 l4.8,8.4 l-9.6,0 Z" fill="#0c0c0c"/>
<path d="M672,379.5 l4.8,8.4 l-9.6,0 Z" fill="#0c0c0c"/>
<path d="M685.8,372.2 l4.8,8.4 l-9.6,0 Z" fill="#0c0c0c"/>
<path d="M700.6,371.4 l4.8,8.4 l-9.6,0 Z" fill="#0c0c0c"/>
<path d="M714,368.9 l4.8,8.4 l-9.6,0 Z" fill="#0c0c0c"/>
<path d="M727.5,367.2 l4.8,8.4 l-9.6,0 Z" fill="#0c0c0c"/>
<path d="M743.4,363 l4.8,8.4 l-9.6,0 Z" fill="#0c0c0c"/>
<path d="M755.7,361.3 l4.8,8.4 l-9.6,0 Z" fill="#0c0c0c"/>
<path d="M767.8,356.3 l4.8,8.4 l-9.6,0 Z" fill="#0c0c0c"/>
<path d="M781,352.9 l4.8,8.4 l-9.6,0 Z" fill="#0c0c0c"/>
<path d="M794.8,347.8 l4.8,8.4 l-9.6,0 Z" fill="#0c0c0c"/>
<path d="M806.5,337.7 l4.8,8.4 l-9.6,0 Z" fill="#0c0c0c"/>
<rect x="81.8" y="596.4" width="537.7" height="490.6" fill="none" stroke="#3a3a3a" stroke-width="2.8" stroke-linejoin="round"/>
<line x1="82.8" y1="1071.9" x2="88.8" y2="1071.9" stroke="#9a9a9a" stroke-width="1.5" stroke-linecap="butt"/>
<line x1="82.8" y1="1056.8" x2="88.8" y2="1056.8" stroke="#9a9a9a" stroke-width="1.5" stroke-linecap="butt"/>
<line x1="82.8" y1="1041.7" x2="88.8" y2="1041.7" stroke="#9a9a9a" stroke-width="1.5" stroke-linecap="butt"/>
<line x1="82.8" y1="1026.7" x2="88.8" y2="1026.7" stroke="#9a9a9a" stroke-width="1.5" stroke-linecap="butt"/>
<line x1="82.8" y1="1011.6" x2="93.8" y2="1011.6" stroke="#1a1a1a" stroke-width="2.4" stroke-linecap="butt"/>
<line x1="82.8" y1="996.5" x2="88.8" y2="996.5" stroke="#9a9a9a" stroke-width="1.5" stroke-linecap="butt"/>
<line x1="82.8" y1="981.4" x2="88.8" y2="981.4" stroke="#9a9a9a" stroke-width="1.5" stroke-linecap="butt"/>
<line x1="82.8" y1="966.3" x2="88.8" y2="966.3" stroke="#9a9a9a" stroke-width="1.5" stroke-linecap="butt"/>
<line x1="82.8" y1="951.2" x2="88.8" y2="951.2" stroke="#9a9a9a" stroke-width="1.5" stroke-linecap="butt"/>
<line x1="82.8" y1="936.2" x2="93.8" y2="936.2" stroke="#1a1a1a" stroke-width="2.4" stroke-linecap="butt"/>
<line x1="82.8" y1="921.1" x2="88.8" y2="921.1" stroke="#9a9a9a" stroke-width="1.5" stroke-linecap="butt"/>
<line x1="82.8" y1="906" x2="88.8" y2="906" stroke="#9a9a9a" stroke-width="1.5" stroke-linecap="butt"/>
<line x1="82.8" y1="890.9" x2="88.8" y2="890.9" stroke="#9a9a9a" stroke-width="1.5" stroke-linecap="butt"/>
<line x1="82.8" y1="875.8" x2="88.8" y2="875.8" stroke="#9a9a9a" stroke-width="1.5" stroke-linecap="butt"/>
<line x1="82.8" y1="860.7" x2="93.8" y2="860.7" stroke="#1a1a1a" stroke-width="2.4" stroke-linecap="butt"/>
<line x1="82.8" y1="845.7" x2="88.8" y2="845.7" stroke="#9a9a9a" stroke-width="1.5" stroke-linecap="butt"/>
<line x1="82.8" y1="830.6" x2="88.8" y2="830.6" stroke="#9a9a9a" stroke-width="1.5" stroke-linecap="butt"/>
<line x1="82.8" y1="815.5" x2="88.8" y2="815.5" stroke="#9a9a9a" stroke-width="1.5" stroke-linecap="butt"/>
<line x1="82.8" y1="800.4" x2="88.8" y2="800.4" stroke="#9a9a9a" stroke-width="1.5" stroke-linecap="butt"/>
<line x1="82.8" y1="785.3" x2="93.8" y2="785.3" stroke="#1a1a1a" stroke-width="2.4" stroke-linecap="butt"/>
<line x1="82.8" y1="770.2" x2="88.8" y2="770.2" stroke="#9a9a9a" stroke-width="1.5" stroke-linecap="butt"/>
<line x1="82.8" y1="755.2" x2="88.8" y2="755.2" stroke="#9a9a9a" stroke-width="1.5" stroke-linecap="butt"/>
<line x1="82.8" y1="740.1" x2="88.8" y2="740.1" stroke="#9a9a9a" stroke-width="1.5" stroke-linecap="butt"/>
<line x1="82.8" y1="725" x2="88.8" y2="725" stroke="#9a9a9a" stroke-width="1.5" stroke-linecap="butt"/>
<line x1="82.8" y1="709.9" x2="93.8" y2="709.9" stroke="#1a1a1a" stroke-width="2.4" stroke-linecap="butt"/>
<line x1="82.8" y1="694.8" x2="88.8" y2="694.8" stroke="#9a9a9a" stroke-width="1.5" stroke-linecap="butt"/>
<line x1="82.8" y1="679.7" x2="88.8" y2="679.7" stroke="#9a9a9a" stroke-width="1.5" stroke-linecap="butt"/>
<line x1="82.8" y1="664.6" x2="88.8" y2="664.6" stroke="#9a9a9a" stroke-width="1.5" stroke-linecap="butt"/>
<line x1="82.8" y1="649.6" x2="88.8" y2="649.6" stroke="#9a9a9a" stroke-width="1.5" stroke-linecap="butt"/>
<line x1="82.8" y1="634.5" x2="93.8" y2="634.5" stroke="#1a1a1a" stroke-width="2.4" stroke-linecap="butt"/>
<line x1="82.8" y1="619.4" x2="88.8" y2="619.4" stroke="#9a9a9a" stroke-width="1.5" stroke-linecap="butt"/>
<line x1="82.8" y1="604.3" x2="88.8" y2="604.3" stroke="#9a9a9a" stroke-width="1.5" stroke-linecap="butt"/>
<line x1="97.2" y1="1086" x2="97.2" y2="1080" stroke="#9a9a9a" stroke-width="1.5" stroke-linecap="butt"/>
<line x1="112.5" y1="1086" x2="112.5" y2="1080" stroke="#9a9a9a" stroke-width="1.5" stroke-linecap="butt"/>
<line x1="127.9" y1="1086" x2="127.9" y2="1080" stroke="#9a9a9a" stroke-width="1.5" stroke-linecap="butt"/>
<line x1="143.3" y1="1086" x2="143.3" y2="1080" stroke="#9a9a9a" stroke-width="1.5" stroke-linecap="butt"/>
<line x1="158.6" y1="1086" x2="158.6" y2="1075" stroke="#1a1a1a" stroke-width="2.4" stroke-linecap="butt"/>
<line x1="174" y1="1086" x2="174" y2="1080" stroke="#9a9a9a" stroke-width="1.5" stroke-linecap="butt"/>
<line x1="189.3" y1="1086" x2="189.3" y2="1080" stroke="#9a9a9a" stroke-width="1.5" stroke-linecap="butt"/>
<line x1="204.7" y1="1086" x2="204.7" y2="1080" stroke="#9a9a9a" stroke-width="1.5" stroke-linecap="butt"/>
<line x1="220.1" y1="1086" x2="220.1" y2="1080" stroke="#9a9a9a" stroke-width="1.5" stroke-linecap="butt"/>
<line x1="235.4" y1="1086" x2="235.4" y2="1075" stroke="#1a1a1a" stroke-width="2.4" stroke-linecap="butt"/>
<line x1="250.8" y1="1086" x2="250.8" y2="1080" stroke="#9a9a9a" stroke-width="1.5" stroke-linecap="butt"/>
<line x1="266.2" y1="1086" x2="266.2" y2="1080" stroke="#9a9a9a" stroke-width="1.5" stroke-linecap="butt"/>
<line x1="281.5" y1="1086" x2="281.5" y2="1080" stroke="#9a9a9a" stroke-width="1.5" stroke-linecap="butt"/>
<line x1="296.9" y1="1086" x2="296.9" y2="1080" stroke="#9a9a9a" stroke-width="1.5" stroke-linecap="butt"/>
<line x1="312.2" y1="1086" x2="312.2" y2="1075" stroke="#1a1a1a" stroke-width="2.4" stroke-linecap="butt"/>
<line x1="327.6" y1="1086" x2="327.6" y2="1080" stroke="#9a9a9a" stroke-width="1.5" stroke-linecap="butt"/>
<line x1="343" y1="1086" x2="343" y2="1080" stroke="#9a9a9a" stroke-width="1.5" stroke-linecap="butt"/>
<line x1="358.3" y1="1086" x2="358.3" y2="1080" stroke="#9a9a9a" stroke-width="1.5" stroke-linecap="butt"/>
<line x1="373.7" y1="1086" x2="373.7" y2="1080" stroke="#9a9a9a" stroke-width="1.5" stroke-linecap="butt"/>
<line x1="389.1" y1="1086" x2="389.1" y2="1075" stroke="#1a1a1a" stroke-width="2.4" stroke-linecap="butt"/>
<line x1="404.4" y1="1086" x2="404.4" y2="1080" stroke="#9a9a9a" stroke-width="1.5" stroke-linecap="butt"/>
<line x1="419.8" y1="1086" x2="419.8" y2="1080" stroke="#9a9a9a" stroke-width="1.5" stroke-linecap="butt"/>
<line x1="435.1" y1="1086" x2="435.1" y2="1080" stroke="#9a9a9a" stroke-width="1.5" stroke-linecap="butt"/>
<line x1="450.5" y1="1086" x2="450.5" y2="1080" stroke="#9a9a9a" stroke-width="1.5" stroke-linecap="butt"/>
<line x1="465.9" y1="1086" x2="465.9" y2="1075" stroke="#1a1a1a" stroke-width="2.4" stroke-linecap="butt"/>
<line x1="481.2" y1="1086" x2="481.2" y2="1080" stroke="#9a9a9a" stroke-width="1.5" stroke-linecap="butt"/>
<line x1="496.6" y1="1086" x2="496.6" y2="1080" stroke="#9a9a9a" stroke-width="1.5" stroke-linecap="butt"/>
<line x1="512" y1="1086" x2="512" y2="1080" stroke="#9a9a9a" stroke-width="1.5" stroke-linecap="butt"/>
<line x1="527.3" y1="1086" x2="527.3" y2="1080" stroke="#9a9a9a" stroke-width="1.5" stroke-linecap="butt"/>
<line x1="542.7" y1="1086" x2="542.7" y2="1075" stroke="#1a1a1a" stroke-width="2.4" stroke-linecap="butt"/>
<line x1="558.1" y1="1086" x2="558.1" y2="1080" stroke="#9a9a9a" stroke-width="1.5" stroke-linecap="butt"/>
<line x1="573.4" y1="1086" x2="573.4" y2="1080" stroke="#9a9a9a" stroke-width="1.5" stroke-linecap="butt"/>
<line x1="588.8" y1="1086" x2="588.8" y2="1080" stroke="#9a9a9a" stroke-width="1.5" stroke-linecap="butt"/>
<line x1="604.1" y1="1086" x2="604.1" y2="1080" stroke="#9a9a9a" stroke-width="1.5" stroke-linecap="butt"/>
<text x="67" y="1096" font-family="Liberation Sans, sans-serif" font-size="25" font-weight="bold" text-anchor="end" fill="#111">1</text>
<text x="67" y="1020.6" font-family="Liberation Sans, sans-serif" font-size="25" font-weight="bold" text-anchor="end" fill="#111">2</text>
<text x="67" y="945.2" font-family="Liberation Sans, sans-serif" font-size="25" font-weight="bold" text-anchor="end" fill="#111">3</text>
<text x="67" y="869.7" font-family="Liberation Sans, sans-serif" font-size="25" font-weight="bold" text-anchor="end" fill="#111">4</text>
<text x="67" y="794.3" font-family="Liberation Sans, sans-serif" font-size="25" font-weight="bold" text-anchor="end" fill="#111">5</text>
<text x="67" y="718.9" font-family="Liberation Sans, sans-serif" font-size="25" font-weight="bold" text-anchor="end" fill="#111">6</text>
<text x="67" y="643.5" font-family="Liberation Sans, sans-serif" font-size="25" font-weight="bold" text-anchor="end" fill="#111">7</text>
<text x="81.8" y="1111.5" font-family="Liberation Sans, sans-serif" font-size="25" font-weight="bold" text-anchor="middle" fill="#111">15</text>
<text x="158.6" y="1111.5" font-family="Liberation Sans, sans-serif" font-size="25" font-weight="bold" text-anchor="middle" fill="#111">20</text>
<text x="235.4" y="1111.5" font-family="Liberation Sans, sans-serif" font-size="25" font-weight="bold" text-anchor="middle" fill="#111">25</text>
<text x="312.2" y="1111.5" font-family="Liberation Sans, sans-serif" font-size="25" font-weight="bold" text-anchor="middle" fill="#111">30</text>
<text x="389.1" y="1111.5" font-family="Liberation Sans, sans-serif" font-size="25" font-weight="bold" text-anchor="middle" fill="#111">35</text>
<text x="465.9" y="1111.5" font-family="Liberation Sans, sans-serif" font-size="25" font-weight="bold" text-anchor="middle" fill="#111">40</text>
<text x="542.7" y="1111.5" font-family="Liberation Sans, sans-serif" font-size="25" font-weight="bold" text-anchor="middle" fill="#111">45</text>
<text x="619.5" y="1111.5" font-family="Liberation Sans, sans-serif" font-size="25" font-weight="bold" text-anchor="middle" fill="#111">50</text>
<text x="351" y="1144" font-family="Liberation Sans, sans-serif" font-size="25" font-weight="bold" text-anchor="middle" fill="#111" textLength="147" lengthAdjust="spacingAndGlyphs">Porosity (%)</text>
<text x="26" y="842.5" font-family="Liberation Sans, sans-serif" font-size="25" font-weight="bold" text-anchor="middle" fill="#111" textLength="122" lengthAdjust="spacingAndGlyphs" transform="rotate(-90 26 842.5)">Tortuosity</text>
<text x="328" y="1184.6" font-family="Liberation Serif, sans-serif" font-size="37" font-weight="bold" text-anchor="middle" fill="#111" textLength="47" lengthAdjust="spacingAndGlyphs">(b)</text>
<text x="345" y="640.4" font-family="Liberation Sans, sans-serif" font-size="25" font-weight="bold" text-anchor="start" fill="#111" textLength="261" lengthAdjust="spacingAndGlyphs">Virtual Microstructure</text>
<text x="345" y="672.3" font-family="Liberation Sans, sans-serif" font-size="25" font-weight="bold" text-anchor="start" fill="#111" textLength="204" lengthAdjust="spacingAndGlyphs">Bruggeman Ideal</text>
<line x1="209.5" y1="632.7" x2="323" y2="632.7" stroke="#1a1a1a" stroke-width="3" stroke-linecap="butt"/>
<line x1="209.5" y1="664" x2="323" y2="664" stroke="#1a1a1a" stroke-width="3" stroke-dasharray="12.6 12.2" stroke-linecap="butt"/>
<path d="M82,618 L82.5,620.5 L83,623 L83.6,625.5 L84.1,628 L84.7,630.5 L85.2,632.9 L85.8,635.4 L86.4,637.9 L87,640.3 L87.6,642.8 L88.2,645.2 L88.8,647.6 L89.4,650.1 L90,652.5 L90.7,654.9 L91.3,657.4 L92,659.8 L92.6,662.2 L93.3,664.6 L94,667 L94.6,669.4 L95.3,671.8 L96,674.2 L96.7,676.6 L97.4,679 L98.1,681.4 L98.8,683.8 L99.5,686.2 L100.3,688.5 L101,690.9 L101.7,693.3 L102.5,695.7 L103.2,698 L103.9,700.4 L104.7,702.8 L105.4,705.2 L106.2,707.5 L106.9,709.9 L107.7,712.3 L108.5,714.6 L109.2,717 L110,719.4 L110.8,721.7 L111.5,724.1 L112.3,726.5 L113.1,728.9 L113.9,731.2 L114.6,733.6 L115.4,736 L116.2,738.4 L117,740.7 L117.8,743.1 L118.5,745.5 L119.3,747.9 L120.1,750.3 L120.9,752.6 L121.7,755 L122.5,757.4 L123.2,759.8 L124,762.2 L124.8,764.6 L125.6,767 L126.4,769.4 L127.1,771.9 L127.9,774.3 L128.7,776.7 L129.5,779.1 L130.2,781.5 L131,783.9 L131.8,786.4 L132.6,788.8 L133.4,791.2 L134.2,793.6 L135,796 L135.8,798.4 L136.6,800.9 L137.4,803.3 L138.3,805.7 L139.1,808.1 L140,810.5 L140.8,812.9 L141.7,815.3 L142.6,817.6 L143.5,820 L144.4,822.4 L145.3,824.8 L146.2,827.1 L147.1,829.5 L148.1,831.8 L149.1,834.1 L150,836.5 L151.1,838.8 L152.1,841.1 L153.1,843.4 L154.2,845.7 L155.2,847.9 L156.3,850.2 L157.4,852.4 L158.6,854.7 L159.7,856.9 L160.9,859.1 L162.1,861.3 L163.3,863.5 L164.6,865.6 L165.8,867.8 L167.1,869.9 L168.5,872 L169.8,874.1 L171.2,876.1 L172.6,878.1 L174.1,880.1 L175.5,882.1 L177.1,884 L178.6,885.9 L180.2,887.7 L181.8,889.5 L183.5,891.3 L185.2,893.1 L187,894.7 L188.8,896.4 L190.6,898 L192.5,899.5 L194.4,901 L196.4,902.5 L198.4,903.9 L200.4,905.3 L202.4,906.7 L204.5,908 L206.6,909.3 L208.8,910.5 L210.9,911.8 L213.1,913 L215.2,914.2 L217.4,915.4 L219.6,916.6 L221.8,917.8 L224,918.9 L226.2,920.1 L228.5,921.2 L230.7,922.4 L232.9,923.5 L235.2,924.6 L237.4,925.7 L239.7,926.8 L242,927.9 L244.2,928.9 L246.5,930 L248.8,931.1 L251.1,932.2 L253.3,933.2 L255.6,934.3 L257.9,935.3 L260.2,936.4 L262.5,937.5 L264.8,938.5 L267.1,939.6 L269.3,940.7 L271.6,941.7 L273.9,942.8 L276.2,943.9 L278.5,945 L280.8,946.1 L283,947.2 L285.3,948.3 L287.6,949.4 L289.9,950.5 L292.1,951.6 L294.4,952.8 L296.6,953.9 L298.9,955.1 L301.1,956.2 L303.4,957.4 L305.6,958.6 L307.8,959.7 L310.1,960.9 L312.3,962.1 L314.5,963.3 L316.8,964.5 L319,965.7 L321.2,966.9 L323.4,968 L325.7,969.2 L327.9,970.4 L330.1,971.6 L332.3,972.8 L334.5,974 L336.8,975.2 L339,976.3 L341.2,977.5 L343.4,978.7 L345.6,979.9 L347.9,981 L350.1,982.2 L352.3,983.3 L354.6,984.4 L356.8,985.6 L359,986.7 L361.3,987.8 L363.5,988.9 L365.7,990 L368,991.1 L370.2,992.1 L372.5,993.2 L374.7,994.2 L377,995.2 L379.3,996.2 L381.5,997.2 L383.8,998.2 L386.1,999.2 L388.4,1000.1 L390.6,1001.1 L392.9,1002 L395.2,1002.9 L397.5,1003.7 L399.9,1004.6 L402.2,1005.4 L404.5,1006.2 L406.8,1007 L409.2,1007.8 L411.5,1008.5 L413.9,1009.3 L416.2,1010 L418.6,1010.6 L421,1011.3 L423.4,1011.9 L425.8,1012.5 L428.2,1013.1 L430.6,1013.6 L433,1014.1 L435.4,1014.6 L437.9,1015.1 L440.3,1015.5 L442.8,1015.9 L445.3,1016.3 L447.7,1016.6 L450.2,1016.9 L452.7,1017.2 L455.3,1017.4 L457.8,1017.6 L460.3,1017.8 L462.8,1018 L465.4,1018.1 L467.9,1018.3 L470.5,1018.4 L473.1,1018.5 L475.6,1018.5 L478.2,1018.6 L480.8,1018.7 L483.4,1018.7 L485.9,1018.7 L488.5,1018.8 L491.1,1018.8 L493.7,1018.8 L496.3,1018.8 L498.8,1018.9 L501.4,1018.9 L504,1019 L506.6,1019 L509.1,1019.1 L511.7,1019.1 L514.3,1019.2 L516.8,1019.3 L519.4,1019.4 L521.9,1019.6 L524.4,1019.7 L526.9,1019.9 L529.4,1020.1 L531.9,1020.3 L534.4,1020.6 L536.9,1020.9 L539.4,1021.2 L541.9,1021.5 L544.3,1021.8 L546.8,1022.2 L549.2,1022.6 L551.7,1022.9 L554.1,1023.3 L556.6,1023.8 L559,1024.2 L561.4,1024.6 L563.9,1025 L566.3,1025.5 L568.7,1025.9 L571.2,1026.3 L573.6,1026.8 L576,1027.2 L578.5,1027.6 L580.9,1028.1 L583.4,1028.5 L585.8,1028.9 L588.3,1029.3 L590.7,1029.7 L593.2,1030 L595.7,1030.4 L598.2,1030.7 L600.7,1031 L603.2,1031.3 L605.7,1031.6 L608.2,1031.9 L610.8,1032.1 L613.3,1032.3 L615.9,1032.5 L618.5,1032.6" fill="none" stroke="#141414" stroke-width="2.2" stroke-linejoin="round" />
<path d="M82,968.3 L84.4,969.2 L86.7,970 L89.1,970.9 L91.5,971.8 L93.9,972.6 L96.2,973.5 L98.6,974.3 L101,975.1 L103.4,976 L105.8,976.8 L108.2,977.6 L110.5,978.4 L112.9,979.2 L115.3,980 L117.7,980.8 L120.1,981.5 L122.5,982.3 L124.9,983.1 L127.3,983.8 L129.7,984.6 L132.1,985.3 L134.5,986.1 L136.9,986.8 L139.3,987.5 L141.7,988.2 L144.1,989 L146.5,989.7 L148.9,990.4 L151.4,991.1 L153.8,991.8 L156.2,992.4 L158.6,993.1 L161,993.8 L163.4,994.5 L165.9,995.1 L168.3,995.8 L170.7,996.4 L173.1,997.1 L175.6,997.7 L178,998.3 L180.4,999 L182.9,999.6 L185.3,1000.2 L187.7,1000.8 L190.2,1001.4 L192.6,1002 L195,1002.6 L197.5,1003.2 L199.9,1003.8 L202.3,1004.4 L204.8,1004.9 L207.2,1005.5 L209.7,1006.1 L212.1,1006.6 L214.6,1007.2 L217,1007.7 L219.5,1008.3 L221.9,1008.8 L224.4,1009.3 L226.8,1009.9 L229.3,1010.4 L231.7,1010.9 L234.2,1011.4 L236.6,1011.9 L239.1,1012.4 L241.6,1012.9 L244,1013.4 L246.5,1013.9 L248.9,1014.4 L251.4,1014.9 L253.9,1015.4 L256.3,1015.8 L258.8,1016.3 L261.3,1016.8 L263.7,1017.2 L266.2,1017.7 L268.7,1018.1 L271.1,1018.6 L273.6,1019 L276.1,1019.5 L278.5,1019.9 L281,1020.3 L283.5,1020.7 L286,1021.2 L288.4,1021.6 L290.9,1022 L293.4,1022.4 L295.9,1022.8 L298.4,1023.2 L300.8,1023.6 L303.3,1024 L305.8,1024.4 L308.3,1024.8 L310.8,1025.2 L313.2,1025.6 L315.7,1025.9 L318.2,1026.3 L320.7,1026.7 L323.2,1027 L325.7,1027.4 L328.2,1027.8 L330.7,1028.1 L333.1,1028.5 L335.6,1028.8 L338.1,1029.2 L340.6,1029.5 L343.1,1029.8 L345.6,1030.2 L348.1,1030.5 L350.6,1030.8 L353.1,1031.2 L355.6,1031.5 L358.1,1031.8 L360.6,1032.1 L363.1,1032.5 L365.6,1032.8 L368.1,1033.1 L370.6,1033.4 L373.1,1033.7 L375.6,1034 L378.1,1034.3 L380.6,1034.6 L383.1,1034.9 L385.6,1035.2 L388.1,1035.5 L390.6,1035.8 L393.1,1036 L395.6,1036.3 L398.1,1036.6 L400.6,1036.9 L403.1,1037.1 L405.6,1037.4 L408.1,1037.7 L410.6,1038 L413.1,1038.2 L415.6,1038.5 L418.1,1038.8 L420.6,1039 L423.1,1039.3 L425.6,1039.5 L428.1,1039.8 L430.6,1040 L433.1,1040.3 L435.6,1040.5 L438.1,1040.8 L440.7,1041 L443.2,1041.3 L445.7,1041.5 L448.2,1041.8 L450.7,1042 L453.2,1042.2 L455.7,1042.5 L458.2,1042.7 L460.7,1042.9 L463.2,1043.2 L465.7,1043.4 L468.2,1043.6 L470.8,1043.8 L473.3,1044.1 L475.8,1044.3 L478.3,1044.5 L480.8,1044.7 L483.3,1045 L485.8,1045.2 L488.3,1045.4 L490.8,1045.6 L493.3,1045.8 L495.8,1046.1 L498.3,1046.3 L500.9,1046.5 L503.4,1046.7 L505.9,1046.9 L508.4,1047.1 L510.9,1047.3 L513.4,1047.6 L515.9,1047.8 L518.4,1048 L520.9,1048.2 L523.4,1048.4 L525.9,1048.6 L528.4,1048.8 L531,1049 L533.5,1049.2 L536,1049.4 L538.5,1049.6 L541,1049.8 L543.5,1050 L546,1050.3 L548.5,1050.5 L551,1050.7 L553.5,1050.9 L556,1051.1 L558.5,1051.3 L561,1051.5 L563.5,1051.7 L566,1051.9 L568.5,1052.1 L571,1052.3 L573.5,1052.5 L576,1052.7 L578.5,1052.9 L581,1053.1 L583.5,1053.3 L586,1053.5 L588.5,1053.8 L591,1054 L593.5,1054.2 L596,1054.4 L598.5,1054.6 L601,1054.8 L603.5,1055 L606,1055.2 L608.5,1055.4 L611,1055.7 L613.5,1055.9 L616,1056.1 L618.5,1056.3" fill="none" stroke="#141414" stroke-width="2.2" stroke-dasharray="11.5 13.7" stroke-linejoin="round" />
<rect x="750.7" y="602" width="537.7" height="490.8" fill="none" stroke="#3a3a3a" stroke-width="2.8" stroke-linejoin="round"/>
<line x1="751.7" y1="1072.4" x2="757.7" y2="1072.4" stroke="#9a9a9a" stroke-width="1.5" stroke-linecap="butt"/>
<line x1="751.7" y1="1051.9" x2="757.7" y2="1051.9" stroke="#9a9a9a" stroke-width="1.5" stroke-linecap="butt"/>
<line x1="751.7" y1="1031.5" x2="757.7" y2="1031.5" stroke="#9a9a9a" stroke-width="1.5" stroke-linecap="butt"/>
<line x1="751.7" y1="1011" x2="762.7" y2="1011" stroke="#1a1a1a" stroke-width="2.4" stroke-linecap="butt"/>
<line x1="751.7" y1="990.5" x2="757.7" y2="990.5" stroke="#9a9a9a" stroke-width="1.5" stroke-linecap="butt"/>
<line x1="751.7" y1="970.1" x2="757.7" y2="970.1" stroke="#9a9a9a" stroke-width="1.5" stroke-linecap="butt"/>
<line x1="751.7" y1="949.6" x2="757.7" y2="949.6" stroke="#9a9a9a" stroke-width="1.5" stroke-linecap="butt"/>
<line x1="751.7" y1="929.2" x2="762.7" y2="929.2" stroke="#1a1a1a" stroke-width="2.4" stroke-linecap="butt"/>
<line x1="751.7" y1="908.7" x2="757.7" y2="908.7" stroke="#9a9a9a" stroke-width="1.5" stroke-linecap="butt"/>
<line x1="751.7" y1="888.3" x2="757.7" y2="888.3" stroke="#9a9a9a" stroke-width="1.5" stroke-linecap="butt"/>
<line x1="751.7" y1="867.9" x2="757.7" y2="867.9" stroke="#9a9a9a" stroke-width="1.5" stroke-linecap="butt"/>
<line x1="751.7" y1="847.4" x2="762.7" y2="847.4" stroke="#1a1a1a" stroke-width="2.4" stroke-linecap="butt"/>
<line x1="751.7" y1="827" x2="757.7" y2="827" stroke="#9a9a9a" stroke-width="1.5" stroke-linecap="butt"/>
<line x1="751.7" y1="806.5" x2="757.7" y2="806.5" stroke="#9a9a9a" stroke-width="1.5" stroke-linecap="butt"/>
<line x1="751.7" y1="786" x2="757.7" y2="786" stroke="#9a9a9a" stroke-width="1.5" stroke-linecap="butt"/>
<line x1="751.7" y1="765.6" x2="762.7" y2="765.6" stroke="#1a1a1a" stroke-width="2.4" stroke-linecap="butt"/>
<line x1="751.7" y1="745.1" x2="757.7" y2="745.1" stroke="#9a9a9a" stroke-width="1.5" stroke-linecap="butt"/>
<line x1="751.7" y1="724.7" x2="757.7" y2="724.7" stroke="#9a9a9a" stroke-width="1.5" stroke-linecap="butt"/>
<line x1="751.7" y1="704.2" x2="757.7" y2="704.2" stroke="#9a9a9a" stroke-width="1.5" stroke-linecap="butt"/>
<line x1="751.7" y1="683.8" x2="762.7" y2="683.8" stroke="#1a1a1a" stroke-width="2.4" stroke-linecap="butt"/>
<line x1="751.7" y1="663.4" x2="757.7" y2="663.4" stroke="#9a9a9a" stroke-width="1.5" stroke-linecap="butt"/>
<line x1="751.7" y1="642.9" x2="757.7" y2="642.9" stroke="#9a9a9a" stroke-width="1.5" stroke-linecap="butt"/>
<line x1="751.7" y1="622.4" x2="757.7" y2="622.4" stroke="#9a9a9a" stroke-width="1.5" stroke-linecap="butt"/>
<line x1="768.6" y1="1091.8" x2="768.6" y2="1085.8" stroke="#9a9a9a" stroke-width="1.5" stroke-linecap="butt"/>
<line x1="786.5" y1="1091.8" x2="786.5" y2="1085.8" stroke="#9a9a9a" stroke-width="1.5" stroke-linecap="butt"/>
<line x1="804.5" y1="1091.8" x2="804.5" y2="1085.8" stroke="#9a9a9a" stroke-width="1.5" stroke-linecap="butt"/>
<line x1="822.4" y1="1091.8" x2="822.4" y2="1085.8" stroke="#9a9a9a" stroke-width="1.5" stroke-linecap="butt"/>
<line x1="840.3" y1="1091.8" x2="840.3" y2="1080.8" stroke="#1a1a1a" stroke-width="2.4" stroke-linecap="butt"/>
<line x1="858.2" y1="1091.8" x2="858.2" y2="1085.8" stroke="#9a9a9a" stroke-width="1.5" stroke-linecap="butt"/>
<line x1="876.2" y1="1091.8" x2="876.2" y2="1085.8" stroke="#9a9a9a" stroke-width="1.5" stroke-linecap="butt"/>
<line x1="894.1" y1="1091.8" x2="894.1" y2="1085.8" stroke="#9a9a9a" stroke-width="1.5" stroke-linecap="butt"/>
<line x1="912" y1="1091.8" x2="912" y2="1085.8" stroke="#9a9a9a" stroke-width="1.5" stroke-linecap="butt"/>
<line x1="929.9" y1="1091.8" x2="929.9" y2="1080.8" stroke="#1a1a1a" stroke-width="2.4" stroke-linecap="butt"/>
<line x1="947.9" y1="1091.8" x2="947.9" y2="1085.8" stroke="#9a9a9a" stroke-width="1.5" stroke-linecap="butt"/>
<line x1="965.8" y1="1091.8" x2="965.8" y2="1085.8" stroke="#9a9a9a" stroke-width="1.5" stroke-linecap="butt"/>
<line x1="983.7" y1="1091.8" x2="983.7" y2="1085.8" stroke="#9a9a9a" stroke-width="1.5" stroke-linecap="butt"/>
<line x1="1001.6" y1="1091.8" x2="1001.6" y2="1085.8" stroke="#9a9a9a" stroke-width="1.5" stroke-linecap="butt"/>
<line x1="1019.5" y1="1091.8" x2="1019.5" y2="1080.8" stroke="#1a1a1a" stroke-width="2.4" stroke-linecap="butt"/>
<line x1="1037.5" y1="1091.8" x2="1037.5" y2="1085.8" stroke="#9a9a9a" stroke-width="1.5" stroke-linecap="butt"/>
<line x1="1055.4" y1="1091.8" x2="1055.4" y2="1085.8" stroke="#9a9a9a" stroke-width="1.5" stroke-linecap="butt"/>
<line x1="1073.3" y1="1091.8" x2="1073.3" y2="1085.8" stroke="#9a9a9a" stroke-width="1.5" stroke-linecap="butt"/>
<line x1="1091.2" y1="1091.8" x2="1091.2" y2="1085.8" stroke="#9a9a9a" stroke-width="1.5" stroke-linecap="butt"/>
<line x1="1109.2" y1="1091.8" x2="1109.2" y2="1080.8" stroke="#1a1a1a" stroke-width="2.4" stroke-linecap="butt"/>
<line x1="1127.1" y1="1091.8" x2="1127.1" y2="1085.8" stroke="#9a9a9a" stroke-width="1.5" stroke-linecap="butt"/>
<line x1="1145" y1="1091.8" x2="1145" y2="1085.8" stroke="#9a9a9a" stroke-width="1.5" stroke-linecap="butt"/>
<line x1="1162.9" y1="1091.8" x2="1162.9" y2="1085.8" stroke="#9a9a9a" stroke-width="1.5" stroke-linecap="butt"/>
<line x1="1180.9" y1="1091.8" x2="1180.9" y2="1085.8" stroke="#9a9a9a" stroke-width="1.5" stroke-linecap="butt"/>
<line x1="1198.8" y1="1091.8" x2="1198.8" y2="1080.8" stroke="#1a1a1a" stroke-width="2.4" stroke-linecap="butt"/>
<line x1="1216.7" y1="1091.8" x2="1216.7" y2="1085.8" stroke="#9a9a9a" stroke-width="1.5" stroke-linecap="butt"/>
<line x1="1234.6" y1="1091.8" x2="1234.6" y2="1085.8" stroke="#9a9a9a" stroke-width="1.5" stroke-linecap="butt"/>
<line x1="1252.5" y1="1091.8" x2="1252.5" y2="1085.8" stroke="#9a9a9a" stroke-width="1.5" stroke-linecap="butt"/>
<line x1="1270.5" y1="1091.8" x2="1270.5" y2="1085.8" stroke="#9a9a9a" stroke-width="1.5" stroke-linecap="butt"/>
<text x="742.5" y="1101.8" font-family="Liberation Sans, sans-serif" font-size="25" font-weight="bold" text-anchor="end" fill="#111">3</text>
<text x="742.5" y="1020" font-family="Liberation Sans, sans-serif" font-size="25" font-weight="bold" text-anchor="end" fill="#111">3.2</text>
<text x="742.5" y="938.2" font-family="Liberation Sans, sans-serif" font-size="25" font-weight="bold" text-anchor="end" fill="#111">3.4</text>
<text x="742.5" y="856.4" font-family="Liberation Sans, sans-serif" font-size="25" font-weight="bold" text-anchor="end" fill="#111">3.6</text>
<text x="742.5" y="774.6" font-family="Liberation Sans, sans-serif" font-size="25" font-weight="bold" text-anchor="end" fill="#111">3.8</text>
<text x="742.5" y="692.8" font-family="Liberation Sans, sans-serif" font-size="25" font-weight="bold" text-anchor="end" fill="#111">4</text>
<text x="742.5" y="611" font-family="Liberation Sans, sans-serif" font-size="25" font-weight="bold" text-anchor="end" fill="#111">4.2</text>
<text x="750.7" y="1118.3" font-family="Liberation Sans, sans-serif" font-size="25" font-weight="bold" text-anchor="middle" fill="#111">0</text>
<text x="840.3" y="1118.3" font-family="Liberation Sans, sans-serif" font-size="25" font-weight="bold" text-anchor="middle" fill="#111">0.4</text>
<text x="929.9" y="1118.3" font-family="Liberation Sans, sans-serif" font-size="25" font-weight="bold" text-anchor="middle" fill="#111">0.8</text>
<text x="1019.5" y="1118.3" font-family="Liberation Sans, sans-serif" font-size="25" font-weight="bold" text-anchor="middle" fill="#111">1.2</text>
<text x="1109.2" y="1118.3" font-family="Liberation Sans, sans-serif" font-size="25" font-weight="bold" text-anchor="middle" fill="#111">1.6</text>
<text x="1198.8" y="1118.3" font-family="Liberation Sans, sans-serif" font-size="25" font-weight="bold" text-anchor="middle" fill="#111">2</text>
<text x="1288.4" y="1118.3" font-family="Liberation Sans, sans-serif" font-size="25" font-weight="bold" text-anchor="middle" fill="#111">2.4</text>
<text x="1019.5" y="1140.5" font-family="Liberation Sans, sans-serif" font-size="25" font-weight="bold" text-anchor="middle" fill="#111" textLength="162" lengthAdjust="spacingAndGlyphs">Capacity (Ah)</text>
<text x="693.2" y="843.6" font-family="Liberation Sans, sans-serif" font-size="25" font-weight="bold" text-anchor="middle" fill="#111" textLength="137" lengthAdjust="spacingAndGlyphs" transform="rotate(-90 693.2 843.6)">Voltage (V)</text>
<text x="1003.4" y="1184.4" font-family="Liberation Serif, sans-serif" font-size="37" font-weight="bold" text-anchor="middle" fill="#111" textLength="42" lengthAdjust="spacingAndGlyphs">(c)</text>
<text x="928" y="645.3" font-family="Liberation Sans, sans-serif" font-size="25" font-weight="bold" text-anchor="start" fill="#111" textLength="261" lengthAdjust="spacingAndGlyphs">Virtual Microstructure</text>
<text x="928" y="675.8" font-family="Liberation Sans, sans-serif" font-size="25" font-weight="bold" text-anchor="start" fill="#111" textLength="204" lengthAdjust="spacingAndGlyphs">Bruggeman Ideal</text>
<line x1="792.2" y1="639.5" x2="905.2" y2="639.5" stroke="#1a1a1a" stroke-width="3" stroke-linecap="butt"/>
<line x1="792" y1="668.8" x2="905.2" y2="668.8" stroke="#1a1a1a" stroke-width="3" stroke-dasharray="11.9 12.9" stroke-linecap="butt"/>
<path d="M751,668.5 L752,683.8 L753.2,686.1 L754.5,688.4 L755.9,690.6 L757.2,692.8 L758.6,694.9 L760.1,696.9 L761.6,699 L763.1,700.9 L764.7,702.9 L766.3,704.8 L767.9,706.7 L769.6,708.5 L771.3,710.3 L773,712.1 L774.7,713.9 L776.5,715.6 L778.3,717.3 L780.1,719 L781.9,720.7 L783.8,722.4 L785.6,724 L787.5,725.7 L789.4,727.3 L791.2,728.9 L793.1,730.6 L795,732.2 L796.9,733.8 L798.8,735.5 L800.7,737.1 L802.6,738.8 L804.5,740.4 L806.4,742.1 L808.3,743.8 L810.2,745.4 L812.1,747.1 L814,748.8 L815.9,750.5 L817.9,752.2 L819.8,753.9 L821.7,755.5 L823.6,757.2 L825.5,758.9 L827.4,760.6 L829.3,762.3 L831.3,764 L833.2,765.6 L835.1,767.3 L837.1,768.9 L839,770.6 L841,772.2 L842.9,773.9 L844.9,775.5 L846.9,777.1 L848.8,778.7 L850.8,780.3 L852.8,781.9 L854.8,783.5 L856.8,785 L858.8,786.6 L860.8,788.1 L862.8,789.6 L864.9,791.1 L866.9,792.6 L869,794 L871,795.5 L873.1,796.9 L875.2,798.3 L877.3,799.7 L879.4,801.1 L881.5,802.4 L883.6,803.8 L885.7,805.1 L887.8,806.4 L890,807.7 L892.1,809 L894.2,810.3 L896.4,811.5 L898.6,812.8 L900.7,814 L902.9,815.2 L905.1,816.4 L907.3,817.6 L909.5,818.7 L911.7,819.9 L913.9,821 L916.2,822.2 L918.4,823.3 L920.6,824.4 L922.9,825.4 L925.1,826.5 L927.4,827.6 L929.6,828.6 L931.9,829.6 L934.2,830.7 L936.5,831.7 L938.7,832.7 L941,833.6 L943.3,834.6 L945.6,835.6 L948,836.5 L950.3,837.4 L952.6,838.4 L954.9,839.3 L957.3,840.2 L959.6,841.1 L961.9,841.9 L964.3,842.8 L966.6,843.7 L969,844.5 L971.4,845.4 L973.7,846.2 L976.1,847 L978.5,847.8 L980.9,848.6 L983.3,849.4 L985.7,850.2 L988.1,850.9 L990.5,851.7 L992.9,852.4 L995.3,853.2 L997.7,853.9 L1000.1,854.6 L1002.5,855.4 L1005,856.1 L1007.4,856.8 L1009.8,857.4 L1012.3,858.1 L1014.7,858.8 L1017.1,859.5 L1019.6,860.1 L1022,860.8 L1024.5,861.4 L1027,862.1 L1029.4,862.7 L1031.9,863.3 L1034.3,864 L1036.8,864.6 L1039.3,865.2 L1041.8,865.8 L1044.2,866.4 L1046.7,867 L1049.2,867.5 L1051.7,868.1 L1054.2,868.7 L1056.6,869.3 L1059.1,869.9 L1061.6,870.4 L1064.1,871 L1066.6,871.6 L1069.1,872.2 L1071.6,872.7 L1074,873.3 L1076.5,873.9 L1079,874.5 L1081.5,875.1 L1083.9,875.7 L1086.4,876.3 L1088.9,876.9 L1091.3,877.5 L1093.8,878.1 L1096.2,878.7 L1098.7,879.4 L1101.1,880 L1103.6,880.6 L1106,881.3 L1108.4,882 L1110.8,882.7 L1113.2,883.4 L1115.7,884.1 L1118,884.8 L1120.4,885.5 L1122.8,886.3 L1125.2,887.1 L1127.6,887.9 L1129.9,888.7 L1132.3,889.5 L1134.6,890.3 L1136.9,891.2 L1139.2,892 L1141.5,892.9 L1143.8,893.9 L1146.1,894.8 L1148.4,895.7 L1150.7,896.7 L1152.9,897.7 L1155.1,898.8 L1157.4,899.8 L1159.6,900.9 L1161.8,902 L1163.9,903.1 L1166.1,904.3 L1168.3,905.4 L1170.4,906.7 L1172.5,907.9 L1174.6,909.2 L1176.7,910.5 L1178.8,911.8 L1180.9,913.2 L1182.9,914.5 L1184.9,916 L1186.9,917.4 L1188.9,918.9 L1190.9,920.4 L1192.8,922 L1194.8,923.6 L1196.7,925.2 L1198.6,926.9 L1200.5,928.6 L1202.3,930.4 L1204.2,932.1 L1206,934 L1207.8,935.8 L1209.5,937.7 L1211.3,939.6 L1213,941.6 L1214.7,943.6 L1216.4,945.6 L1218,947.6 L1219.7,949.7 L1221.3,951.8 L1222.8,953.9 L1224.4,956 L1225.9,958.1 L1227.4,960.2 L1228.8,962.4 L1230.3,964.5 L1231.7,966.7 L1233,968.8 L1234.4,971 L1235.7,973.1 L1236.9,975.3 L1238.1,977.5 L1239.3,979.7 L1240.4,981.9 L1241.4,984.1 L1242.5,986.3 L1243.4,988.5 L1244.3,990.8 L1245.1,993 L1245.9,995.3 L1246.6,997.7 L1247.2,1000 L1247.8,1002.3 L1248.3,1004.7 L1248.7,1007.1 L1249.1,1009.5 L1249.5,1011.9 L1249.7,1014.4 L1249.9,1016.8 L1250.1,1019.3 L1250.1,1021.8 L1250.1,1024.3 L1250.1,1026.8 L1250,1029.4 L1249.8,1031.9 L1249.6,1034.5 L1249.3,1037.1 L1248.9,1039.7 L1248.5,1042.4 L1248,1045 L1247.5,1070 L1247.5,1092" fill="none" stroke="#141414" stroke-width="2.2" stroke-linejoin="round" />
<path d="M751,668 L753,686 L754.8,687.7 L756.6,689.3 L758.4,691 L760.2,692.6 L762,694.3 L763.8,696 L765.6,697.7 L767.4,699.4 L769.2,701.1 L771,702.8 L772.8,704.6 L774.6,706.3 L776.5,708 L778.3,709.7 L780.1,711.5 L781.9,713.2 L783.7,714.9 L785.6,716.7 L787.4,718.4 L789.2,720.2 L791.1,721.9 L792.9,723.7 L794.8,725.4 L796.6,727.2 L798.5,728.9 L800.3,730.7 L802.2,732.4 L804,734.2 L805.9,735.9 L807.8,737.6 L809.7,739.4 L811.5,741.1 L813.4,742.8 L815.3,744.6 L817.2,746.3 L819.1,748 L821,749.7 L822.9,751.4 L824.8,753.1 L826.8,754.8 L828.7,756.5 L830.6,758.2 L832.6,759.8 L834.5,761.5 L836.4,763.1 L838.4,764.8 L840.4,766.4 L842.3,768 L844.3,769.6 L846.3,771.3 L848.3,772.8 L850.3,774.4 L852.3,776 L854.3,777.5 L856.3,779.1 L858.3,780.6 L860.3,782.1 L862.4,783.6 L864.4,785.1 L866.4,786.6 L868.5,788 L870.6,789.5 L872.6,790.9 L874.7,792.3 L876.8,793.7 L878.9,795.1 L881,796.5 L883.1,797.8 L885.3,799.1 L887.4,800.4 L889.5,801.7 L891.7,803 L893.8,804.2 L896,805.5 L898.2,806.7 L900.3,807.9 L902.5,809.1 L904.7,810.2 L906.9,811.4 L909.1,812.5 L911.4,813.7 L913.6,814.8 L915.8,815.9 L918,816.9 L920.3,818 L922.5,819.1 L924.8,820.1 L927.1,821.1 L929.3,822.1 L931.6,823.1 L933.9,824.1 L936.2,825.1 L938.5,826 L940.8,827 L943.1,827.9 L945.4,828.8 L947.7,829.7 L950.1,830.6 L952.4,831.5 L954.7,832.4 L957.1,833.2 L959.4,834.1 L961.8,834.9 L964.1,835.8 L966.5,836.6 L968.9,837.4 L971.3,838.2 L973.6,839 L976,839.7 L978.4,840.5 L980.8,841.3 L983.2,842 L985.6,842.8 L988,843.5 L990.4,844.2 L992.8,844.9 L995.3,845.6 L997.7,846.3 L1000.1,847 L1002.5,847.7 L1005,848.4 L1007.4,849.1 L1009.9,849.7 L1012.3,850.4 L1014.8,851 L1017.2,851.7 L1019.7,852.3 L1022.1,853 L1024.6,853.6 L1027.1,854.2 L1029.5,854.8 L1032,855.5 L1034.5,856.1 L1036.9,856.7 L1039.4,857.3 L1041.9,857.9 L1044.4,858.5 L1046.9,859 L1049.4,859.6 L1051.8,860.2 L1054.3,860.8 L1056.8,861.4 L1059.3,862 L1061.8,862.5 L1064.3,863.1 L1066.8,863.7 L1069.3,864.3 L1071.8,864.9 L1074.3,865.4 L1076.7,866 L1079.2,866.6 L1081.7,867.2 L1084.2,867.8 L1086.7,868.4 L1089.1,869.1 L1091.6,869.7 L1094,870.3 L1096.5,871 L1099,871.6 L1101.4,872.3 L1103.8,872.9 L1106.3,873.6 L1108.7,874.3 L1111.1,875 L1113.5,875.8 L1115.9,876.5 L1118.3,877.2 L1120.7,878 L1123.1,878.8 L1125.5,879.6 L1127.8,880.4 L1130.2,881.2 L1132.5,882.1 L1134.8,882.9 L1137.1,883.8 L1139.4,884.7 L1141.7,885.7 L1144,886.6 L1146.3,887.6 L1148.5,888.6 L1150.8,889.6 L1153,890.7 L1155.2,891.7 L1157.4,892.8 L1159.6,893.9 L1161.8,895.1 L1163.9,896.3 L1166.1,897.5 L1168.2,898.7 L1170.3,899.9 L1172.4,901.2 L1174.4,902.5 L1176.5,903.9 L1178.5,905.3 L1180.5,906.7 L1182.5,908.1 L1184.5,909.6 L1186.5,911.1 L1188.4,912.7 L1190.3,914.3 L1192.2,915.9 L1194.1,917.5 L1195.9,919.2 L1197.8,921 L1199.6,922.7 L1201.4,924.6 L1203.1,926.4 L1204.9,928.3 L1206.6,930.2 L1208.3,932.2 L1209.9,934.2 L1211.6,936.3 L1213.2,938.4 L1214.8,940.5 L1216.4,942.6 L1217.9,944.8 L1219.5,946.9 L1221,949.1 L1222.5,951.3 L1223.9,953.5 L1225.4,955.7 L1226.8,957.9 L1228.3,960 L1229.7,962.2 L1231.1,964.3 L1232.4,966.5 L1233.8,968.6 L1235.1,970.7 L1236.4,972.8 L1237.6,974.9 L1238.8,977 L1239.9,979.2 L1241,981.3 L1242.1,983.5 L1243,985.7 L1244,987.9 L1244.8,990.2 L1245.6,992.5 L1246.2,994.9 L1246.9,997.2 L1247.4,999.7 L1247.9,1002.1 L1248.3,1004.5 L1248.7,1007 L1249,1009.5 L1249.2,1012 L1249.4,1014.6 L1249.5,1017.1 L1249.6,1019.7 L1249.6,1022.2 L1249.6,1024.8 L1249.6,1027.3 L1249.4,1029.9 L1249.3,1032.4 L1249.1,1035 L1248.9,1037.5 L1248.6,1040 L1248.3,1042.5 L1248,1045 L1247.5,1070 L1247.5,1092" fill="none" stroke="#141414" stroke-width="2.2" stroke-dasharray="9 11.5" stroke-linejoin="round" />
<path d="M750.8,717.5 L752.3,730 L752.8,732.6 L753.5,735.2 L754.1,737.7 L754.8,740.2 L755.6,742.7 L756.4,745.1 L757.2,747.5 L758.2,749.9 L759.1,752.2 L760.1,754.6 L761.2,756.8 L762.3,759.1 L763.4,761.3 L764.6,763.4 L765.8,765.6 L767.1,767.7 L768.4,769.8 L769.7,771.8 L771.1,773.9 L772.5,775.9 L773.9,777.9 L775.4,779.8 L776.9,781.7 L778.5,783.6 L780.1,785.5 L781.7,787.4 L783.3,789.2 L785,791 L786.7,792.8 L788.4,794.6 L790.2,796.3 L792,798 L793.8,799.7 L795.6,801.4 L797.5,803.1 L799.3,804.8 L801.2,806.4 L803.1,808 L805.1,809.6 L807,811.2 L809,812.8 L811,814.3 L813,815.9 L815,817.4 L817,818.9 L819,820.4 L821,821.9 L823.1,823.4 L825.2,824.9 L827.2,826.4 L829.3,827.8 L831.4,829.3 L833.5,830.7 L835.6,832.2 L837.7,833.6 L839.8,835 L841.9,836.4 L844,837.8 L846.1,839.2 L848.2,840.6 L850.4,842 L852.5,843.3 L854.6,844.7 L856.8,846 L858.9,847.4 L861.1,848.7 L863.2,850 L865.4,851.3 L867.6,852.6 L869.8,853.9 L872,855.2 L874.1,856.4 L876.3,857.7 L878.5,858.9 L880.7,860.2 L882.9,861.4 L885.2,862.6 L887.4,863.8 L889.6,865 L891.8,866.2 L894.1,867.4 L896.3,868.5 L898.5,869.7 L900.8,870.8 L903,872 L905.3,873.1 L907.6,874.2 L909.8,875.3 L912.1,876.4 L914.4,877.4 L916.7,878.5 L918.9,879.6 L921.2,880.6 L923.5,881.6 L925.8,882.6 L928.1,883.6 L930.4,884.6 L932.7,885.6 L935,886.6 L937.4,887.5 L939.7,888.5 L942,889.4 L944.3,890.3 L946.7,891.2 L949,892.1 L951.4,893 L953.7,893.9 L956.1,894.7 L958.4,895.6 L960.8,896.4 L963.1,897.2 L965.5,898 L967.9,898.8 L970.2,899.6 L972.6,900.3 L975,901.1 L977.4,901.8 L979.8,902.6 L982.2,903.3 L984.6,904 L987,904.7 L989.4,905.4 L991.8,906.1 L994.2,906.7 L996.6,907.4 L999,908.1 L1001.4,908.7 L1003.8,909.4 L1006.2,910 L1008.6,910.6 L1011.1,911.3 L1013.5,911.9 L1015.9,912.5 L1018.3,913.1 L1020.8,913.7 L1023.2,914.3 L1025.6,914.9 L1028.1,915.5 L1030.5,916.1 L1032.9,916.7 L1035.4,917.3 L1037.8,917.9 L1040.2,918.5 L1042.7,919.1 L1045.1,919.7 L1047.6,920.3 L1050,920.8 L1052.4,921.4 L1054.9,922 L1057.3,922.6 L1059.8,923.2 L1062.2,923.8 L1064.7,924.4 L1067.1,925 L1069.5,925.6 L1072,926.2 L1074.4,926.8 L1076.9,927.4 L1079.3,928 L1081.8,928.7 L1084.2,929.3 L1086.7,929.9 L1089.1,930.6 L1091.5,931.2 L1094,931.9 L1096.4,932.5 L1098.9,933.2 L1101.3,933.9 L1103.7,934.5 L1106.2,935.2 L1108.6,935.9 L1111,936.7 L1113.5,937.4 L1115.9,938.1 L1118.3,938.8 L1120.7,939.6 L1123.2,940.4 L1125.6,941.1 L1128,941.9 L1130.4,942.7 L1132.8,943.5 L1135.2,944.4 L1137.6,945.2 L1140,946 L1142.5,946.9 L1144.9,947.8 L1147.2,948.7 L1149.6,949.6 L1152,950.5 L1154.4,951.5 L1156.8,952.4 L1159.1,953.4 L1161.5,954.4 L1163.8,955.4 L1166.1,956.5 L1168.5,957.5 L1170.8,958.6 L1173,959.7 L1175.3,960.8 L1177.6,962 L1179.8,963.1 L1182,964.3 L1184.2,965.5 L1186.4,966.8 L1188.5,968 L1190.7,969.3 L1192.8,970.6 L1194.9,972 L1196.9,973.4 L1199,974.8 L1201,976.2 L1203,977.6 L1204.9,979.1 L1206.8,980.6 L1208.7,982.2 L1210.6,983.7 L1212.4,985.3 L1214.2,987 L1216,988.6 L1217.7,990.3 L1219.4,992.1 L1221.1,993.8 L1222.7,995.6 L1224.3,997.5 L1225.8,999.3 L1227.3,1001.2 L1228.7,1003.2 L1230.2,1005.2 L1231.5,1007.2 L1232.9,1009.2 L1234.1,1011.3 L1235.4,1013.5 L1236.6,1015.6 L1237.7,1017.8 L1238.8,1020.1 L1239.8,1022.4 L1240.8,1024.7 L1241.8,1027.1 L1242.6,1029.5 L1243.5,1032 L1244.3,1034.5 L1245,1037.1 L1245.6,1039.7 L1246.3,1042.3 L1246.8,1045 L1247.5,1060 L1247.5,1092" fill="none" stroke="#141414" stroke-width="2.2" stroke-linejoin="round" />
<path d="M750.8,717.5 L752.5,732 L753.5,734.3 L754.6,736.5 L755.7,738.7 L756.9,740.9 L758.1,743 L759.4,745.1 L760.7,747.2 L762.1,749.3 L763.5,751.3 L764.9,753.3 L766.4,755.2 L767.9,757.2 L769.4,759.1 L771,761 L772.6,762.9 L774.3,764.7 L776,766.6 L777.6,768.4 L779.4,770.2 L781.1,772 L782.9,773.8 L784.6,775.5 L786.4,777.3 L788.2,779 L790.1,780.7 L791.9,782.4 L793.8,784.1 L795.6,785.8 L797.5,787.5 L799.4,789.1 L801.3,790.8 L803.3,792.4 L805.2,794 L807.1,795.6 L809.1,797.2 L811.1,798.8 L813.1,800.4 L815.1,802 L817.1,803.5 L819.1,805 L821.1,806.6 L823.2,808.1 L825.2,809.6 L827.3,811.1 L829.4,812.5 L831.5,814 L833.5,815.5 L835.6,816.9 L837.8,818.3 L839.9,819.7 L842,821.2 L844.1,822.5 L846.2,823.9 L848.4,825.3 L850.5,826.7 L852.7,828 L854.8,829.4 L857,830.7 L859.2,832 L861.3,833.3 L863.5,834.6 L865.7,835.9 L867.9,837.1 L870,838.4 L872.2,839.7 L874.4,840.9 L876.6,842.1 L878.8,843.3 L881.1,844.5 L883.3,845.7 L885.5,846.9 L887.7,848.1 L889.9,849.2 L892.2,850.4 L894.4,851.5 L896.7,852.7 L898.9,853.8 L901.2,854.9 L903.4,856 L905.7,857 L907.9,858.1 L910.2,859.2 L912.5,860.2 L914.8,861.3 L917,862.3 L919.3,863.3 L921.6,864.3 L923.9,865.3 L926.2,866.3 L928.5,867.2 L930.8,868.2 L933.2,869.1 L935.5,870 L937.8,871 L940.1,871.9 L942.5,872.8 L944.8,873.6 L947.2,874.5 L949.5,875.4 L951.9,876.2 L954.2,877.1 L956.6,877.9 L958.9,878.7 L961.3,879.5 L963.7,880.3 L966.1,881.1 L968.5,881.8 L970.8,882.6 L973.2,883.3 L975.6,884.1 L978,884.8 L980.5,885.5 L982.9,886.2 L985.3,886.9 L987.7,887.6 L990.1,888.2 L992.6,888.9 L995,889.5 L997.4,890.1 L999.9,890.8 L1002.3,891.4 L1004.8,892 L1007.2,892.6 L1009.7,893.1 L1012.1,893.7 L1014.6,894.3 L1017.1,894.8 L1019.5,895.4 L1022,896 L1024.5,896.5 L1026.9,897.1 L1029.4,897.6 L1031.9,898.1 L1034.4,898.7 L1036.8,899.2 L1039.3,899.7 L1041.8,900.3 L1044.3,900.8 L1046.7,901.3 L1049.2,901.8 L1051.7,902.4 L1054.2,902.9 L1056.6,903.4 L1059.1,904 L1061.6,904.5 L1064.1,905 L1066.5,905.6 L1069,906.1 L1071.5,906.7 L1073.9,907.3 L1076.4,907.8 L1078.9,908.4 L1081.3,909 L1083.8,909.6 L1086.2,910.2 L1088.7,910.8 L1091.1,911.4 L1093.5,912 L1096,912.7 L1098.4,913.3 L1100.8,914 L1103.3,914.6 L1105.7,915.3 L1108.1,916 L1110.5,916.7 L1112.9,917.4 L1115.3,918.2 L1117.7,918.9 L1120.1,919.7 L1122.5,920.5 L1124.8,921.3 L1127.2,922.1 L1129.6,922.9 L1131.9,923.8 L1134.3,924.6 L1136.6,925.5 L1138.9,926.4 L1141.3,927.4 L1143.6,928.3 L1145.9,929.3 L1148.2,930.3 L1150.5,931.3 L1152.8,932.3 L1155,933.4 L1157.3,934.5 L1159.6,935.6 L1161.8,936.7 L1164.1,937.8 L1166.3,939 L1168.5,940.2 L1170.7,941.5 L1172.9,942.7 L1175.1,944 L1177.3,945.3 L1179.4,946.7 L1181.5,948 L1183.7,949.4 L1185.8,950.9 L1187.8,952.3 L1189.9,953.8 L1192,955.3 L1194,956.8 L1196,958.3 L1197.9,959.9 L1199.9,961.5 L1201.8,963.2 L1203.7,964.8 L1205.6,966.5 L1207.4,968.2 L1209.2,970 L1211,971.7 L1212.8,973.5 L1214.5,975.3 L1216.2,977.2 L1217.8,979.1 L1219.4,981 L1221,982.9 L1222.5,984.9 L1224,986.8 L1225.5,988.9 L1226.9,990.9 L1228.3,993 L1229.6,995 L1230.9,997.2 L1232.2,999.3 L1233.4,1001.5 L1234.5,1003.7 L1235.6,1005.9 L1236.7,1008.2 L1237.7,1010.5 L1238.6,1012.8 L1239.5,1015.1 L1240.4,1017.5 L1241.2,1019.9 L1241.9,1022.3 L1242.6,1024.7 L1243.2,1027.2 L1243.8,1029.7 L1244.3,1032.2 L1244.8,1034.8 L1245.2,1037.4 L1245.5,1040 L1247.5,1060 L1247.5,1092" fill="none" stroke="#141414" stroke-width="2.2" stroke-dasharray="9 11.5" stroke-linejoin="round" />
<line x1="1072.5" y1="813.7" x2="1025.8" y2="851.4" stroke="#8a8a8a" stroke-width="1.3" stroke-linecap="butt"/>
<line x1="1072.5" y1="813.7" x2="1045.7" y2="857.4" stroke="#8a8a8a" stroke-width="1.3" stroke-linecap="butt"/>
<line x1="996.7" y1="961" x2="1017.5" y2="896.3" stroke="#8a8a8a" stroke-width="1.3" stroke-linecap="butt"/>
<line x1="996.7" y1="961" x2="1046.4" y2="921.2" stroke="#8a8a8a" stroke-width="1.3" stroke-linecap="butt"/>
<text x="1082" y="809.5" font-family="Liberation Sans, sans-serif" font-size="28" font-weight="bold" text-anchor="middle" fill="#111" textLength="36" lengthAdjust="spacingAndGlyphs">1C</text>
<text x="994" y="986" font-family="Liberation Sans, sans-serif" font-size="28" font-weight="bold" text-anchor="middle" fill="#111" textLength="37" lengthAdjust="spacingAndGlyphs">3C</text>
<rect x="79.3" y="1205.4" width="536.5" height="490.4" fill="none" stroke="#3a3a3a" stroke-width="2.8" stroke-linejoin="round"/>
<line x1="80.3" y1="1671.3" x2="86.3" y2="1671.3" stroke="#9a9a9a" stroke-width="1.5" stroke-linecap="butt"/>
<line x1="80.3" y1="1646.8" x2="86.3" y2="1646.8" stroke="#9a9a9a" stroke-width="1.5" stroke-linecap="butt"/>
<line x1="80.3" y1="1622.2" x2="86.3" y2="1622.2" stroke="#9a9a9a" stroke-width="1.5" stroke-linecap="butt"/>
<line x1="80.3" y1="1597.7" x2="86.3" y2="1597.7" stroke="#9a9a9a" stroke-width="1.5" stroke-linecap="butt"/>
<line x1="80.3" y1="1573.2" x2="91.3" y2="1573.2" stroke="#1a1a1a" stroke-width="2.4" stroke-linecap="butt"/>
<line x1="80.3" y1="1548.7" x2="86.3" y2="1548.7" stroke="#9a9a9a" stroke-width="1.5" stroke-linecap="butt"/>
<line x1="80.3" y1="1524.2" x2="86.3" y2="1524.2" stroke="#9a9a9a" stroke-width="1.5" stroke-linecap="butt"/>
<line x1="80.3" y1="1499.6" x2="86.3" y2="1499.6" stroke="#9a9a9a" stroke-width="1.5" stroke-linecap="butt"/>
<line x1="80.3" y1="1475.1" x2="86.3" y2="1475.1" stroke="#9a9a9a" stroke-width="1.5" stroke-linecap="butt"/>
<line x1="80.3" y1="1450.6" x2="91.3" y2="1450.6" stroke="#1a1a1a" stroke-width="2.4" stroke-linecap="butt"/>
<line x1="80.3" y1="1426.1" x2="86.3" y2="1426.1" stroke="#9a9a9a" stroke-width="1.5" stroke-linecap="butt"/>
<line x1="80.3" y1="1401.6" x2="86.3" y2="1401.6" stroke="#9a9a9a" stroke-width="1.5" stroke-linecap="butt"/>
<line x1="80.3" y1="1377" x2="86.3" y2="1377" stroke="#9a9a9a" stroke-width="1.5" stroke-linecap="butt"/>
<line x1="80.3" y1="1352.5" x2="86.3" y2="1352.5" stroke="#9a9a9a" stroke-width="1.5" stroke-linecap="butt"/>
<line x1="80.3" y1="1328" x2="91.3" y2="1328" stroke="#1a1a1a" stroke-width="2.4" stroke-linecap="butt"/>
<line x1="80.3" y1="1303.5" x2="86.3" y2="1303.5" stroke="#9a9a9a" stroke-width="1.5" stroke-linecap="butt"/>
<line x1="80.3" y1="1279" x2="86.3" y2="1279" stroke="#9a9a9a" stroke-width="1.5" stroke-linecap="butt"/>
<line x1="80.3" y1="1254.4" x2="86.3" y2="1254.4" stroke="#9a9a9a" stroke-width="1.5" stroke-linecap="butt"/>
<line x1="80.3" y1="1229.9" x2="86.3" y2="1229.9" stroke="#9a9a9a" stroke-width="1.5" stroke-linecap="butt"/>
<line x1="97.2" y1="1694.8" x2="97.2" y2="1688.8" stroke="#9a9a9a" stroke-width="1.5" stroke-linecap="butt"/>
<line x1="115.1" y1="1694.8" x2="115.1" y2="1688.8" stroke="#9a9a9a" stroke-width="1.5" stroke-linecap="butt"/>
<line x1="132.9" y1="1694.8" x2="132.9" y2="1688.8" stroke="#9a9a9a" stroke-width="1.5" stroke-linecap="butt"/>
<line x1="150.8" y1="1694.8" x2="150.8" y2="1688.8" stroke="#9a9a9a" stroke-width="1.5" stroke-linecap="butt"/>
<line x1="168.7" y1="1694.8" x2="168.7" y2="1683.8" stroke="#1a1a1a" stroke-width="2.4" stroke-linecap="butt"/>
<line x1="186.6" y1="1694.8" x2="186.6" y2="1688.8" stroke="#9a9a9a" stroke-width="1.5" stroke-linecap="butt"/>
<line x1="204.5" y1="1694.8" x2="204.5" y2="1688.8" stroke="#9a9a9a" stroke-width="1.5" stroke-linecap="butt"/>
<line x1="222.4" y1="1694.8" x2="222.4" y2="1688.8" stroke="#9a9a9a" stroke-width="1.5" stroke-linecap="butt"/>
<line x1="240.2" y1="1694.8" x2="240.2" y2="1688.8" stroke="#9a9a9a" stroke-width="1.5" stroke-linecap="butt"/>
<line x1="258.1" y1="1694.8" x2="258.1" y2="1683.8" stroke="#1a1a1a" stroke-width="2.4" stroke-linecap="butt"/>
<line x1="276" y1="1694.8" x2="276" y2="1688.8" stroke="#9a9a9a" stroke-width="1.5" stroke-linecap="butt"/>
<line x1="293.9" y1="1694.8" x2="293.9" y2="1688.8" stroke="#9a9a9a" stroke-width="1.5" stroke-linecap="butt"/>
<line x1="311.8" y1="1694.8" x2="311.8" y2="1688.8" stroke="#9a9a9a" stroke-width="1.5" stroke-linecap="butt"/>
<line x1="329.7" y1="1694.8" x2="329.7" y2="1688.8" stroke="#9a9a9a" stroke-width="1.5" stroke-linecap="butt"/>
<line x1="347.5" y1="1694.8" x2="347.5" y2="1683.8" stroke="#1a1a1a" stroke-width="2.4" stroke-linecap="butt"/>
<line x1="365.4" y1="1694.8" x2="365.4" y2="1688.8" stroke="#9a9a9a" stroke-width="1.5" stroke-linecap="butt"/>
<line x1="383.3" y1="1694.8" x2="383.3" y2="1688.8" stroke="#9a9a9a" stroke-width="1.5" stroke-linecap="butt"/>
<line x1="401.2" y1="1694.8" x2="401.2" y2="1688.8" stroke="#9a9a9a" stroke-width="1.5" stroke-linecap="butt"/>
<line x1="419.1" y1="1694.8" x2="419.1" y2="1688.8" stroke="#9a9a9a" stroke-width="1.5" stroke-linecap="butt"/>
<line x1="437" y1="1694.8" x2="437" y2="1683.8" stroke="#1a1a1a" stroke-width="2.4" stroke-linecap="butt"/>
<line x1="454.8" y1="1694.8" x2="454.8" y2="1688.8" stroke="#9a9a9a" stroke-width="1.5" stroke-linecap="butt"/>
<line x1="472.7" y1="1694.8" x2="472.7" y2="1688.8" stroke="#9a9a9a" stroke-width="1.5" stroke-linecap="butt"/>
<line x1="490.6" y1="1694.8" x2="490.6" y2="1688.8" stroke="#9a9a9a" stroke-width="1.5" stroke-linecap="butt"/>
<line x1="508.5" y1="1694.8" x2="508.5" y2="1688.8" stroke="#9a9a9a" stroke-width="1.5" stroke-linecap="butt"/>
<line x1="526.4" y1="1694.8" x2="526.4" y2="1683.8" stroke="#1a1a1a" stroke-width="2.4" stroke-linecap="butt"/>
<line x1="544.3" y1="1694.8" x2="544.3" y2="1688.8" stroke="#9a9a9a" stroke-width="1.5" stroke-linecap="butt"/>
<line x1="562.1" y1="1694.8" x2="562.1" y2="1688.8" stroke="#9a9a9a" stroke-width="1.5" stroke-linecap="butt"/>
<line x1="580" y1="1694.8" x2="580" y2="1688.8" stroke="#9a9a9a" stroke-width="1.5" stroke-linecap="butt"/>
<line x1="597.9" y1="1694.8" x2="597.9" y2="1688.8" stroke="#9a9a9a" stroke-width="1.5" stroke-linecap="butt"/>
<text x="71" y="1704.8" font-family="Liberation Sans, sans-serif" font-size="25" font-weight="bold" text-anchor="end" fill="#111">-0.5</text>
<text x="71" y="1582.2" font-family="Liberation Sans, sans-serif" font-size="25" font-weight="bold" text-anchor="end" fill="#111">0</text>
<text x="71" y="1459.6" font-family="Liberation Sans, sans-serif" font-size="25" font-weight="bold" text-anchor="end" fill="#111">0.5</text>
<text x="71" y="1337" font-family="Liberation Sans, sans-serif" font-size="25" font-weight="bold" text-anchor="end" fill="#111">1</text>
<text x="71" y="1214.4" font-family="Liberation Sans, sans-serif" font-size="25" font-weight="bold" text-anchor="end" fill="#111">1.5</text>
<text x="79.3" y="1719.3" font-family="Liberation Sans, sans-serif" font-size="25" font-weight="bold" text-anchor="middle" fill="#111">0</text>
<text x="168.7" y="1719.3" font-family="Liberation Sans, sans-serif" font-size="25" font-weight="bold" text-anchor="middle" fill="#111">0.4</text>
<text x="258.1" y="1719.3" font-family="Liberation Sans, sans-serif" font-size="25" font-weight="bold" text-anchor="middle" fill="#111">0.8</text>
<text x="347.5" y="1719.3" font-family="Liberation Sans, sans-serif" font-size="25" font-weight="bold" text-anchor="middle" fill="#111">1.2</text>
<text x="437" y="1719.3" font-family="Liberation Sans, sans-serif" font-size="25" font-weight="bold" text-anchor="middle" fill="#111">1.6</text>
<text x="526.4" y="1719.3" font-family="Liberation Sans, sans-serif" font-size="25" font-weight="bold" text-anchor="middle" fill="#111">2</text>
<text x="615.8" y="1719.3" font-family="Liberation Sans, sans-serif" font-size="25" font-weight="bold" text-anchor="middle" fill="#111">2.4</text>
<text x="347" y="1744" font-family="Liberation Sans, sans-serif" font-size="25" font-weight="bold" text-anchor="middle" fill="#111" textLength="161" lengthAdjust="spacingAndGlyphs">Capacity (Ah)</text>
<text x="22.8" y="1450.7" font-family="Liberation Sans, sans-serif" font-size="25" font-weight="bold" text-anchor="middle" fill="#111" textLength="200" lengthAdjust="spacingAndGlyphs" transform="rotate(-90 22.8 1450.7)">Heating Rate (W)</text>
<text x="337.2" y="1788.3" font-family="Liberation Serif, sans-serif" font-size="37" font-weight="bold" text-anchor="middle" fill="#111" textLength="46.5" lengthAdjust="spacingAndGlyphs">(d)</text>
<text x="244.5" y="1248.1" font-family="Liberation Sans, sans-serif" font-size="25" font-weight="bold" text-anchor="start" fill="#111" textLength="261" lengthAdjust="spacingAndGlyphs">Virtual Microstructure</text>
<text x="244.5" y="1277.6" font-family="Liberation Sans, sans-serif" font-size="25" font-weight="bold" text-anchor="start" fill="#111" textLength="204" lengthAdjust="spacingAndGlyphs">Bruggeman Ideal</text>
<line x1="108" y1="1240.7" x2="222.7" y2="1240.7" stroke="#1a1a1a" stroke-width="3" stroke-linecap="butt"/>
<line x1="108" y1="1272.8" x2="222.7" y2="1272.8" stroke="#1a1a1a" stroke-width="3" stroke-dasharray="14 16" stroke-linecap="butt"/>
<path d="M80.6,1490 C81.5,1488.5 84.2,1483.5 86.1,1481.1 C87.9,1478.7 89.8,1477.3 91.7,1475.6 C93.6,1473.9 95.4,1472.5 97.2,1471.1 C99,1469.7 100.8,1468.7 102.8,1467.2 C104.8,1465.7 107.6,1464 109.4,1462.2 C111.2,1460.5 112.2,1458.8 113.9,1456.7 C115.6,1454.6 117.6,1451.5 119.4,1449.4 C121.2,1447.3 123.1,1445.3 125,1443.9 C126.9,1442.5 128.8,1441.5 130.6,1440.8 C132.4,1440.1 132.1,1439.9 136.1,1439.5 C140.1,1439.1 148.8,1438.6 154.5,1438.3 C160.2,1438 165.4,1438.6 170.4,1437.9 C175.4,1437.2 178.7,1436.5 184.3,1434.4 C189.9,1432.3 197.6,1428.7 204.2,1425.4 C210.8,1422.1 217.5,1417.3 224.1,1414.5 C230.7,1411.7 237.4,1410.3 244,1408.5 C250.6,1406.7 257.2,1405.5 263.8,1403.5 C270.4,1401.5 277.1,1398.4 283.7,1396.6 C290.3,1394.8 297,1393.9 303.6,1392.6 C310.2,1391.3 315.4,1390.9 323.5,1388.8 C331.6,1386.7 343.7,1382.4 352.2,1379.8 C360.7,1377.2 366.9,1376 374.3,1373.2 C381.7,1370.4 389.1,1366.4 396.5,1363.2 C403.9,1360 411.3,1357.1 418.7,1354.3 C426.1,1351.5 434.2,1349.3 440.9,1346.6 C447.5,1343.9 454.2,1339.9 458.6,1338.1 C463,1336.3 464.6,1335.8 467.5,1335.9 C470.4,1336.1 472.8,1336.7 476.3,1339 C479.8,1341.3 484.4,1347.6 488.6,1349.9 C492.8,1352.2 496.6,1352.2 501.4,1353.1 C506.2,1354 513,1354.5 517.5,1355.3 C522,1356 525,1356.4 528.2,1357.6 C531.4,1358.8 534,1359.9 536.7,1362.7 C539.4,1365.5 542.1,1370.3 544.2,1374.5 C546.4,1378.7 547.8,1383.8 549.6,1388 C551.4,1392.2 553.3,1396.5 555,1400 C556.7,1403.5 558.3,1406.3 560,1409 C561.7,1411.7 563.4,1415.3 565,1416 C566.6,1416.7 568.1,1415.8 569.5,1413.1 C570.9,1410.4 572.6,1404.2 573.5,1400 C574.4,1395.8 574.8,1390 575,1388" fill="none" stroke="#141414" stroke-width="2.2" stroke-linejoin="round" />
<path d="M80,1502 C81,1500.3 83.5,1494.7 86,1492 C88.5,1489.3 91.3,1487.5 95,1486 C98.7,1484.5 103.4,1484.2 108,1483 C112.6,1481.8 118.3,1480.3 122.7,1478.5 C127.1,1476.7 130,1473.7 134.6,1472.1 C139.2,1470.5 145.5,1469.9 150.5,1469.1 C155.5,1468.3 158.8,1467.4 164.4,1467.1 C170,1466.8 177.7,1467.1 184.3,1467.1 C190.9,1467.1 198.6,1467.4 204.2,1467.1 C209.8,1466.8 213.1,1466 218.1,1465.2 C223.1,1464.4 226.4,1463.5 234,1462.2 C241.6,1460.9 253.9,1458.9 263.8,1457.2 C273.7,1455.5 283.7,1454 293.6,1452.2 C303.6,1450.4 311.9,1448.6 323.5,1446.3 C335.1,1444 352.2,1441 363.3,1438.6 C374.4,1436.2 382.9,1433.7 389.9,1431.9 C396.8,1430.1 400.2,1428.9 405,1428 C409.8,1427.1 414.5,1426.5 418.7,1426.6 C422.9,1426.7 426.3,1427.8 430,1428.5 C433.7,1429.2 434.6,1430.5 440.9,1430.5 C447.1,1430.5 457.9,1429.5 467.5,1428.6 C477.1,1427.7 491.1,1425.3 498.5,1425.3 C505.9,1425.3 507.7,1426.6 511.8,1428.6 C515.9,1430.6 519.2,1433.1 522.9,1437.5 C526.6,1441.9 531,1450.8 534,1455.2 C537,1459.6 537.6,1460.4 540.6,1464.1 C543.6,1467.8 548.7,1474.5 551.7,1477.4 C554.7,1480.4 555.8,1481.8 558.4,1481.8 C561,1481.8 564.7,1479.2 567.3,1477.4 C569.9,1475.6 572.6,1473.6 573.9,1470.7 C575.2,1467.8 574.8,1481.1 575,1460 C575.2,1438.9 575,1363.3 575,1344" fill="none" stroke="#141414" stroke-width="2.2" stroke-dasharray="13 14" stroke-linejoin="round" />
<path d="M80.6,1492 C81.5,1490.3 84.2,1484.2 86.1,1481.7 C87.9,1479.2 89.7,1478 91.7,1477.2 C93.7,1476.4 96,1476.6 98.3,1476.9 C100.6,1477.2 103.5,1477.8 105.6,1478.9 C107.7,1480 109.2,1481.9 111.1,1483.3 C112.9,1484.7 114.8,1486.1 116.7,1487.2 C118.6,1488.3 119.9,1489 122.2,1490 C124.5,1491 126.8,1491.9 130.6,1493.3 C134.4,1494.7 139.4,1496.4 145,1498.3 C150.6,1500.2 157.8,1502.6 164.4,1504.9 C171,1507.2 177.7,1509.8 184.3,1511.9 C190.9,1514.1 197.6,1516.2 204.2,1517.8 C210.8,1519.4 217.5,1520.5 224.1,1521.8 C230.7,1523.1 237.4,1524.5 244,1525.8 C250.6,1527.1 257.2,1528.6 263.8,1529.8 C270.4,1531 274.3,1531.4 283.7,1532.7 C293.1,1534 306.3,1536.1 320,1537.8 C333.7,1539.5 350.6,1541.4 365.9,1543.1 C381.2,1544.8 396.4,1546.5 411.7,1547.7 C427,1548.9 442.3,1549.4 457.6,1550 C472.9,1550.6 489.7,1551 503.5,1551.1 C517.3,1551.2 532.5,1551 540.6,1550.6 C548.7,1550.2 548.8,1549.7 552,1548.5 C555.2,1547.3 557.6,1545.6 560,1543.5 C562.4,1541.4 564.7,1539.1 566.5,1536 C568.3,1532.9 569.8,1530.2 571,1525 C572.2,1519.8 572.9,1512.5 573.5,1505 C574.1,1497.5 574.2,1488.3 574.5,1480 C574.8,1471.7 574.9,1459.3 575,1455.2" fill="none" stroke="#141414" stroke-width="2.2" stroke-linejoin="round" />
<path d="M80,1512 C81,1509.2 83.8,1499.1 86,1495 C88.2,1490.9 90.7,1488.9 93,1487.5 C95.3,1486.1 97.5,1486.4 100,1486.5 C102.5,1486.6 106.2,1487.5 108.3,1488.3 C110.4,1489.1 110.2,1489.7 112.8,1491.1 C115.4,1492.5 120.3,1495.1 123.9,1496.7 C127.5,1498.3 129.3,1498.9 134.4,1500.6 C139.5,1502.3 147.8,1505 154.5,1506.9 C161.2,1508.8 166.1,1510.1 174.4,1511.9 C182.7,1513.7 193.3,1515.7 204.2,1517.8 C215.1,1519.9 226.8,1522.2 240,1524.5 C253.2,1526.8 270.4,1529.5 283.7,1531.5 C297,1533.5 302.5,1534.5 320,1536.2 C337.5,1537.9 365.9,1540.6 388.8,1541.9 C411.7,1543.2 434.7,1544 457.6,1544.2 C480.5,1544.4 511.1,1543.9 526.4,1543.1 C541.7,1542.3 543.3,1541.7 549.4,1539.6 C555.5,1537.5 559.7,1535.5 563.1,1530.5 C566.5,1525.5 568.5,1518.2 570,1509.8 C571.5,1501.4 571.7,1487 572.3,1480 C572.9,1473 573.3,1470 573.5,1468" fill="none" stroke="#141414" stroke-width="2.2" stroke-dasharray="13 14" stroke-linejoin="round" />
<path d="M79.5,1648 C80.4,1646.2 82.3,1639.8 84.9,1637 C87.5,1634.2 91.6,1632 94.9,1631.5 C98.2,1631 101.5,1632.6 104.8,1634 C108.1,1635.4 110.8,1638.7 114.8,1640 C118.8,1641.3 124.4,1641.2 128.7,1642 C133,1642.8 136.3,1644.2 140.6,1645 C144.9,1645.8 149.9,1647.3 154.5,1647 C159.1,1646.7 164.1,1644.8 168.4,1643 C172.7,1641.2 176,1638 180.3,1636 C184.6,1634 190.3,1632.2 194.3,1631 C198.3,1629.8 200.2,1629.1 204.2,1628.7 C208.2,1628.3 213.1,1629.1 218.1,1628.7 C223.1,1628.3 229,1627.2 234,1626.1 C239,1625 243.9,1623.4 247.9,1622.1 C251.9,1620.8 254.2,1619.1 257.9,1618.1 C261.5,1617.1 265.5,1616.4 269.8,1616.2 C274.1,1616 279.7,1617.3 283.7,1617.1 C287.7,1616.9 289.6,1616.5 293.6,1615.2 C297.6,1613.9 303.3,1611 307.6,1609.2 C311.9,1607.4 314.9,1605.3 319.5,1604.5 C324.1,1603.7 331.1,1604.5 335,1604.5 C338.9,1604.5 338.5,1605.4 342.9,1604.5 C347.3,1603.6 354.8,1601.5 361.3,1599.3 C367.8,1597.1 374.6,1592.7 381.9,1591.2 C389.2,1589.7 398.8,1591 404.9,1590.1 C411,1589.1 412.9,1588 418.6,1585.5 C424.3,1583 431.3,1577.1 439.3,1575.2 C447.3,1573.3 459.9,1575.2 466.8,1574 C473.7,1572.8 476,1571 480.6,1568.3 C485.2,1565.6 490.1,1561 494.3,1558 C498.5,1555 502.4,1553.8 505.8,1550 C509.2,1546.2 511.6,1542.1 515,1535 C518.4,1527.9 523,1516.7 526.4,1507.5 C529.8,1498.3 533.2,1486.9 535.6,1480 C538,1473.1 538.9,1474.3 540.6,1466 C542.3,1457.7 544.1,1442.2 546,1430 C547.9,1417.8 550.2,1402.1 551.7,1393 C553.2,1383.9 553.6,1381.7 554.9,1375.6 C556.1,1369.5 557.8,1362.4 559.2,1356.3 C560.6,1350.2 562.1,1345.2 563.5,1339.2 C564.9,1333.2 566.4,1325.7 567.8,1320 C569.2,1314.3 570.9,1309.7 572,1305 C573.1,1300.3 573.8,1295.4 574.2,1292.1 C574.6,1288.8 574.5,1286.2 574.5,1285" fill="none" stroke="#141414" stroke-width="2.2" stroke-linejoin="round" />
<path d="M80,1640 C81.3,1639 84.8,1635.2 88,1634 C91.2,1632.8 94.4,1632.2 98.9,1633 C103.4,1633.8 108.8,1638.2 114.8,1639 C120.8,1639.8 127.3,1638 134.6,1638 C141.9,1638 150.2,1638.8 158.5,1639 C166.8,1639.2 176.7,1639.5 184.3,1639 C191.9,1638.5 199.2,1637.2 204.2,1636 C209.2,1634.8 209.1,1633.5 214.1,1632 C219.1,1630.5 225.7,1628.5 234,1627 C242.3,1625.5 255.5,1624.8 263.8,1623.1 C272.1,1621.4 275.4,1618.9 283.7,1617.1 C292,1615.3 305.1,1613.7 313.5,1612.2 C321.9,1610.8 327,1610.2 333.8,1608.4 C340.6,1606.6 346,1603.3 354.4,1601.6 C362.8,1599.9 374.6,1599.2 384.2,1598.1 C393.8,1596.9 404.8,1594.9 411.7,1594.7 C418.6,1594.5 419.8,1597.4 425.5,1597 C431.2,1596.6 439.2,1594.5 446.1,1592.4 C453,1590.3 460.3,1587.9 466.8,1584.4 C473.3,1581 479.8,1576.3 485.1,1571.7 C490.5,1567.1 495.1,1562.2 498.9,1556.8 C502.7,1551.4 505.1,1546.7 508.1,1539.6 C511.2,1532.5 514.2,1523.6 517.2,1514.4 C520.2,1505.2 523.6,1494.5 526.4,1484.6 C529.2,1474.7 530.9,1469.3 534,1455.2 C537.1,1441.1 542,1412.9 545.1,1399.8 C548.2,1386.7 549.9,1386.8 552.8,1376.7 C555.7,1366.6 559.7,1350.3 562.4,1339.2 C565.1,1328.1 566.8,1319.3 568.8,1310.3 C570.8,1301.3 573.3,1289.4 574.2,1285.2" fill="none" stroke="#141414" stroke-width="2.2" stroke-dasharray="13 14" stroke-linejoin="round" />
<line x1="240" y1="1389.6" x2="249.9" y2="1402.5" stroke="#8a8a8a" stroke-width="1.3" stroke-linecap="butt"/>
<line x1="240" y1="1389.6" x2="191.3" y2="1459.2" stroke="#8a8a8a" stroke-width="1.3" stroke-linecap="butt"/>
<text x="220.5" y="1384.3" font-family="Liberation Sans, sans-serif" font-size="20" font-weight="bold" text-anchor="start" fill="#151515" textLength="55" lengthAdjust="spacingAndGlyphs">Joule</text>
<text x="376.6" y="1532.6" font-family="Liberation Sans, sans-serif" font-size="20" font-weight="bold" text-anchor="start" fill="#151515" textLength="92" lengthAdjust="spacingAndGlyphs">Reaction</text>
<text x="110.8" y="1626.3" font-family="Liberation Sans, sans-serif" font-size="20" font-weight="bold" text-anchor="start" fill="#151515" textLength="110" lengthAdjust="spacingAndGlyphs">Reversible</text>
<rect x="752.6" y="1208.3" width="536.3" height="488.7" fill="none" stroke="#3a3a3a" stroke-width="2.8" stroke-linejoin="round"/>
<line x1="753.6" y1="1688.1" x2="759.6" y2="1688.1" stroke="#9a9a9a" stroke-width="1.5" stroke-linecap="butt"/>
<line x1="753.6" y1="1670.3" x2="759.6" y2="1670.3" stroke="#9a9a9a" stroke-width="1.5" stroke-linecap="butt"/>
<line x1="753.6" y1="1652.6" x2="764.6" y2="1652.6" stroke="#1a1a1a" stroke-width="2.4" stroke-linecap="butt"/>
<line x1="753.6" y1="1634.8" x2="759.6" y2="1634.8" stroke="#9a9a9a" stroke-width="1.5" stroke-linecap="butt"/>
<line x1="753.6" y1="1617" x2="759.6" y2="1617" stroke="#9a9a9a" stroke-width="1.5" stroke-linecap="butt"/>
<line x1="753.6" y1="1599.3" x2="759.6" y2="1599.3" stroke="#9a9a9a" stroke-width="1.5" stroke-linecap="butt"/>
<line x1="753.6" y1="1581.5" x2="759.6" y2="1581.5" stroke="#9a9a9a" stroke-width="1.5" stroke-linecap="butt"/>
<line x1="753.6" y1="1563.7" x2="764.6" y2="1563.7" stroke="#1a1a1a" stroke-width="2.4" stroke-linecap="butt"/>
<line x1="753.6" y1="1545.9" x2="759.6" y2="1545.9" stroke="#9a9a9a" stroke-width="1.5" stroke-linecap="butt"/>
<line x1="753.6" y1="1528.2" x2="759.6" y2="1528.2" stroke="#9a9a9a" stroke-width="1.5" stroke-linecap="butt"/>
<line x1="753.6" y1="1510.4" x2="759.6" y2="1510.4" stroke="#9a9a9a" stroke-width="1.5" stroke-linecap="butt"/>
<line x1="753.6" y1="1492.6" x2="759.6" y2="1492.6" stroke="#9a9a9a" stroke-width="1.5" stroke-linecap="butt"/>
<line x1="753.6" y1="1474.8" x2="764.6" y2="1474.8" stroke="#1a1a1a" stroke-width="2.4" stroke-linecap="butt"/>
<line x1="753.6" y1="1457.1" x2="759.6" y2="1457.1" stroke="#9a9a9a" stroke-width="1.5" stroke-linecap="butt"/>
<line x1="753.6" y1="1439.3" x2="759.6" y2="1439.3" stroke="#9a9a9a" stroke-width="1.5" stroke-linecap="butt"/>
<line x1="753.6" y1="1421.5" x2="759.6" y2="1421.5" stroke="#9a9a9a" stroke-width="1.5" stroke-linecap="butt"/>
<line x1="753.6" y1="1403.8" x2="759.6" y2="1403.8" stroke="#9a9a9a" stroke-width="1.5" stroke-linecap="butt"/>
<line x1="753.6" y1="1386" x2="764.6" y2="1386" stroke="#1a1a1a" stroke-width="2.4" stroke-linecap="butt"/>
<line x1="753.6" y1="1368.2" x2="759.6" y2="1368.2" stroke="#9a9a9a" stroke-width="1.5" stroke-linecap="butt"/>
<line x1="753.6" y1="1350.4" x2="759.6" y2="1350.4" stroke="#9a9a9a" stroke-width="1.5" stroke-linecap="butt"/>
<line x1="753.6" y1="1332.7" x2="759.6" y2="1332.7" stroke="#9a9a9a" stroke-width="1.5" stroke-linecap="butt"/>
<line x1="753.6" y1="1314.9" x2="759.6" y2="1314.9" stroke="#9a9a9a" stroke-width="1.5" stroke-linecap="butt"/>
<line x1="753.6" y1="1297.1" x2="764.6" y2="1297.1" stroke="#1a1a1a" stroke-width="2.4" stroke-linecap="butt"/>
<line x1="753.6" y1="1279.4" x2="759.6" y2="1279.4" stroke="#9a9a9a" stroke-width="1.5" stroke-linecap="butt"/>
<line x1="753.6" y1="1261.6" x2="759.6" y2="1261.6" stroke="#9a9a9a" stroke-width="1.5" stroke-linecap="butt"/>
<line x1="753.6" y1="1243.8" x2="759.6" y2="1243.8" stroke="#9a9a9a" stroke-width="1.5" stroke-linecap="butt"/>
<line x1="753.6" y1="1226" x2="759.6" y2="1226" stroke="#9a9a9a" stroke-width="1.5" stroke-linecap="butt"/>
<line x1="770.5" y1="1696" x2="770.5" y2="1690" stroke="#9a9a9a" stroke-width="1.5" stroke-linecap="butt"/>
<line x1="788.4" y1="1696" x2="788.4" y2="1690" stroke="#9a9a9a" stroke-width="1.5" stroke-linecap="butt"/>
<line x1="806.2" y1="1696" x2="806.2" y2="1690" stroke="#9a9a9a" stroke-width="1.5" stroke-linecap="butt"/>
<line x1="824.1" y1="1696" x2="824.1" y2="1690" stroke="#9a9a9a" stroke-width="1.5" stroke-linecap="butt"/>
<line x1="842" y1="1696" x2="842" y2="1685" stroke="#1a1a1a" stroke-width="2.4" stroke-linecap="butt"/>
<line x1="859.9" y1="1696" x2="859.9" y2="1690" stroke="#9a9a9a" stroke-width="1.5" stroke-linecap="butt"/>
<line x1="877.7" y1="1696" x2="877.7" y2="1690" stroke="#9a9a9a" stroke-width="1.5" stroke-linecap="butt"/>
<line x1="895.6" y1="1696" x2="895.6" y2="1690" stroke="#9a9a9a" stroke-width="1.5" stroke-linecap="butt"/>
<line x1="913.5" y1="1696" x2="913.5" y2="1690" stroke="#9a9a9a" stroke-width="1.5" stroke-linecap="butt"/>
<line x1="931.4" y1="1696" x2="931.4" y2="1685" stroke="#1a1a1a" stroke-width="2.4" stroke-linecap="butt"/>
<line x1="949.2" y1="1696" x2="949.2" y2="1690" stroke="#9a9a9a" stroke-width="1.5" stroke-linecap="butt"/>
<line x1="967.1" y1="1696" x2="967.1" y2="1690" stroke="#9a9a9a" stroke-width="1.5" stroke-linecap="butt"/>
<line x1="985" y1="1696" x2="985" y2="1690" stroke="#9a9a9a" stroke-width="1.5" stroke-linecap="butt"/>
<line x1="1002.9" y1="1696" x2="1002.9" y2="1690" stroke="#9a9a9a" stroke-width="1.5" stroke-linecap="butt"/>
<line x1="1020.8" y1="1696" x2="1020.8" y2="1685" stroke="#1a1a1a" stroke-width="2.4" stroke-linecap="butt"/>
<line x1="1038.6" y1="1696" x2="1038.6" y2="1690" stroke="#9a9a9a" stroke-width="1.5" stroke-linecap="butt"/>
<line x1="1056.5" y1="1696" x2="1056.5" y2="1690" stroke="#9a9a9a" stroke-width="1.5" stroke-linecap="butt"/>
<line x1="1074.4" y1="1696" x2="1074.4" y2="1690" stroke="#9a9a9a" stroke-width="1.5" stroke-linecap="butt"/>
<line x1="1092.3" y1="1696" x2="1092.3" y2="1690" stroke="#9a9a9a" stroke-width="1.5" stroke-linecap="butt"/>
<line x1="1110.1" y1="1696" x2="1110.1" y2="1685" stroke="#1a1a1a" stroke-width="2.4" stroke-linecap="butt"/>
<line x1="1128" y1="1696" x2="1128" y2="1690" stroke="#9a9a9a" stroke-width="1.5" stroke-linecap="butt"/>
<line x1="1145.9" y1="1696" x2="1145.9" y2="1690" stroke="#9a9a9a" stroke-width="1.5" stroke-linecap="butt"/>
<line x1="1163.8" y1="1696" x2="1163.8" y2="1690" stroke="#9a9a9a" stroke-width="1.5" stroke-linecap="butt"/>
<line x1="1181.6" y1="1696" x2="1181.6" y2="1690" stroke="#9a9a9a" stroke-width="1.5" stroke-linecap="butt"/>
<line x1="1199.5" y1="1696" x2="1199.5" y2="1685" stroke="#1a1a1a" stroke-width="2.4" stroke-linecap="butt"/>
<line x1="1217.4" y1="1696" x2="1217.4" y2="1690" stroke="#9a9a9a" stroke-width="1.5" stroke-linecap="butt"/>
<line x1="1235.3" y1="1696" x2="1235.3" y2="1690" stroke="#9a9a9a" stroke-width="1.5" stroke-linecap="butt"/>
<line x1="1253.2" y1="1696" x2="1253.2" y2="1690" stroke="#9a9a9a" stroke-width="1.5" stroke-linecap="butt"/>
<line x1="1271" y1="1696" x2="1271" y2="1690" stroke="#9a9a9a" stroke-width="1.5" stroke-linecap="butt"/>
<text x="744.5" y="1661.6" font-family="Liberation Sans, sans-serif" font-size="25" font-weight="bold" text-anchor="end" fill="#111">30</text>
<text x="744.5" y="1572.7" font-family="Liberation Sans, sans-serif" font-size="25" font-weight="bold" text-anchor="end" fill="#111">40</text>
<text x="744.5" y="1483.8" font-family="Liberation Sans, sans-serif" font-size="25" font-weight="bold" text-anchor="end" fill="#111">50</text>
<text x="744.5" y="1395" font-family="Liberation Sans, sans-serif" font-size="25" font-weight="bold" text-anchor="end" fill="#111">60</text>
<text x="744.5" y="1306.1" font-family="Liberation Sans, sans-serif" font-size="25" font-weight="bold" text-anchor="end" fill="#111">70</text>
<text x="744.5" y="1217.3" font-family="Liberation Sans, sans-serif" font-size="25" font-weight="bold" text-anchor="end" fill="#111">80</text>
<text x="752.6" y="1721" font-family="Liberation Sans, sans-serif" font-size="25" font-weight="bold" text-anchor="middle" fill="#111">0</text>
<text x="842" y="1721" font-family="Liberation Sans, sans-serif" font-size="25" font-weight="bold" text-anchor="middle" fill="#111">0.4</text>
<text x="931.4" y="1721" font-family="Liberation Sans, sans-serif" font-size="25" font-weight="bold" text-anchor="middle" fill="#111">0.8</text>
<text x="1020.8" y="1721" font-family="Liberation Sans, sans-serif" font-size="25" font-weight="bold" text-anchor="middle" fill="#111">1.2</text>
<text x="1110.1" y="1721" font-family="Liberation Sans, sans-serif" font-size="25" font-weight="bold" text-anchor="middle" fill="#111">1.6</text>
<text x="1199.5" y="1721" font-family="Liberation Sans, sans-serif" font-size="25" font-weight="bold" text-anchor="middle" fill="#111">2</text>
<text x="1288.9" y="1721" font-family="Liberation Sans, sans-serif" font-size="25" font-weight="bold" text-anchor="middle" fill="#111">2.4</text>
<text x="1020.5" y="1745.6" font-family="Liberation Sans, sans-serif" font-size="25" font-weight="bold" text-anchor="middle" fill="#111" textLength="159" lengthAdjust="spacingAndGlyphs">Capacity (Ah)</text>
<text x="695.3" y="1453.5" font-family="Liberation Sans, sans-serif" font-size="25" font-weight="bold" text-anchor="middle" fill="#111" textLength="203" lengthAdjust="spacingAndGlyphs" transform="rotate(-90 695.3 1453.5)">Temperature (&#176;C)</text>
<text x="1003.4" y="1788.3" font-family="Liberation Serif, sans-serif" font-size="37" font-weight="bold" text-anchor="middle" fill="#111" textLength="43" lengthAdjust="spacingAndGlyphs">(e)</text>
<text x="928.4" y="1252.1" font-family="Liberation Sans, sans-serif" font-size="25" font-weight="bold" text-anchor="start" fill="#111" textLength="261" lengthAdjust="spacingAndGlyphs">Virtual Microstructure</text>
<text x="928.4" y="1281.7" font-family="Liberation Sans, sans-serif" font-size="25" font-weight="bold" text-anchor="start" fill="#111" textLength="204" lengthAdjust="spacingAndGlyphs">Bruggeman Ideal</text>
<line x1="793.5" y1="1244.7" x2="906.8" y2="1244.7" stroke="#1a1a1a" stroke-width="3" stroke-linecap="butt"/>
<line x1="793.5" y1="1275.2" x2="906.8" y2="1275.2" stroke="#1a1a1a" stroke-width="3" stroke-dasharray="11.9 12.8" stroke-linecap="butt"/>
<path d="M754,1696.8 L756.1,1695.5 L758.2,1694.1 L760.4,1692.8 L762.5,1691.4 L764.6,1690.1 L766.8,1688.8 L768.9,1687.4 L771,1686.1 L773.2,1684.8 L775.3,1683.5 L777.4,1682.2 L779.6,1680.8 L781.7,1679.5 L783.9,1678.2 L786,1676.9 L788.1,1675.6 L790.3,1674.3 L792.4,1673 L794.6,1671.7 L796.7,1670.4 L798.9,1669.1 L801,1667.8 L803.2,1666.5 L805.3,1665.2 L807.5,1663.9 L809.6,1662.6 L811.8,1661.3 L813.9,1660 L816.1,1658.7 L818.2,1657.4 L820.4,1656.1 L822.5,1654.8 L824.7,1653.5 L826.8,1652.2 L829,1650.9 L831.1,1649.6 L833.3,1648.3 L835.4,1647 L837.6,1645.7 L839.7,1644.4 L841.9,1643.1 L844,1641.8 L846.2,1640.5 L848.3,1639.2 L850.5,1637.9 L852.6,1636.6 L854.7,1635.3 L856.9,1634 L859,1632.7 L861.2,1631.4 L863.3,1630.1 L865.4,1628.7 L867.6,1627.4 L869.7,1626.1 L871.9,1624.8 L874,1623.5 L876.1,1622.2 L878.2,1620.8 L880.4,1619.5 L882.5,1618.2 L884.6,1616.8 L886.8,1615.5 L888.9,1614.2 L891,1612.8 L893.1,1611.5 L895.2,1610.1 L897.3,1608.8 L899.5,1607.4 L901.6,1606.1 L903.7,1604.7 L905.8,1603.4 L907.9,1602 L910,1600.6 L912.1,1599.3 L914.2,1597.9 L916.3,1596.5 L918.3,1595.1 L920.4,1593.7 L922.5,1592.3 L924.6,1590.9 L926.7,1589.6 L928.8,1588.2 L930.8,1586.7 L932.9,1585.3 L935,1583.9 L937.1,1582.5 L939.1,1581.1 L941.2,1579.7 L943.3,1578.3 L945.3,1576.8 L947.4,1575.4 L949.4,1574 L951.5,1572.5 L953.5,1571.1 L955.6,1569.6 L957.6,1568.2 L959.7,1566.7 L961.7,1565.3 L963.8,1563.8 L965.8,1562.4 L967.8,1560.9 L969.9,1559.5 L971.9,1558 L974,1556.5 L976,1555 L978,1553.6 L980,1552.1 L982.1,1550.6 L984.1,1549.1 L986.1,1547.6 L988.1,1546.2 L990.1,1544.7 L992.2,1543.2 L994.2,1541.7 L996.2,1540.2 L998.2,1538.7 L1000.2,1537.2 L1002.2,1535.7 L1004.2,1534.1 L1006.2,1532.6 L1008.2,1531.1 L1010.2,1529.6 L1012.2,1528.1 L1014.2,1526.6 L1016.2,1525 L1018.2,1523.5 L1020.2,1522 L1022.2,1520.4 L1024.2,1518.9 L1026.2,1517.4 L1028.2,1515.8 L1030.2,1514.3 L1032.2,1512.8 L1034.1,1511.2 L1036.1,1509.7 L1038.1,1508.1 L1040.1,1506.6 L1042.1,1505 L1044,1503.4 L1046,1501.9 L1048,1500.3 L1050,1498.8 L1051.9,1497.2 L1053.9,1495.6 L1055.8,1494.1 L1057.8,1492.5 L1059.8,1490.9 L1061.7,1489.3 L1063.7,1487.7 L1065.6,1486.2 L1067.6,1484.6 L1069.5,1483 L1071.5,1481.4 L1073.4,1479.8 L1075.4,1478.2 L1077.3,1476.6 L1079.3,1475 L1081.2,1473.4 L1083.1,1471.8 L1085.1,1470.2 L1087,1468.6 L1088.9,1466.9 L1090.8,1465.3 L1092.8,1463.7 L1094.7,1462.1 L1096.6,1460.4 L1098.5,1458.8 L1100.4,1457.2 L1102.3,1455.5 L1104.3,1453.9 L1106.2,1452.3 L1108.1,1450.6 L1110,1449 L1111.9,1447.3 L1113.7,1445.7 L1115.6,1444 L1117.5,1442.3 L1119.4,1440.7 L1121.3,1439 L1123.2,1437.3 L1125.1,1435.7 L1126.9,1434 L1128.8,1432.3 L1130.7,1430.6 L1132.5,1428.9 L1134.4,1427.3 L1136.2,1425.6 L1138.1,1423.9 L1140,1422.2 L1141.8,1420.5 L1143.6,1418.8 L1145.5,1417.1 L1147.3,1415.4 L1149.2,1413.6 L1151,1411.9 L1152.8,1410.2 L1154.6,1408.5 L1156.5,1406.7 L1158.3,1405 L1160.1,1403.3 L1161.9,1401.5 L1163.7,1399.8 L1165.5,1398.1 L1167.3,1396.3 L1169.1,1394.6 L1170.9,1392.8 L1172.7,1391 L1174.5,1389.3 L1176.3,1387.5 L1178,1385.7 L1179.8,1384 L1181.6,1382.2 L1183.3,1380.4 L1185.1,1378.6 L1186.8,1376.8 L1188.6,1375 L1190.3,1373.2 L1192,1371.4 L1193.7,1369.6 L1195.5,1367.7 L1197.2,1365.9 L1198.9,1364.1 L1200.6,1362.2 L1202.3,1360.4 L1204,1358.6 L1205.6,1356.7 L1207.3,1354.8 L1209,1353 L1210.6,1351.1 L1212.3,1349.2 L1213.9,1347.3 L1215.6,1345.4 L1217.2,1343.5 L1218.8,1341.6 L1220.4,1339.7 L1222,1337.8 L1223.6,1335.8 L1225.2,1333.9 L1226.8,1332 L1228.4,1330 L1230,1328.1 L1231.5,1326.1 L1233.1,1324.1 L1234.6,1322.1 L1236.1,1320.1 L1237.6,1318.1 L1239.1,1316.1 L1240.6,1314.1 L1242.1,1312.1 L1243.6,1310.1 L1245.1,1308 L1246.6,1306 L1248,1303.9" fill="none" stroke="#141414" stroke-width="2.2" stroke-linejoin="round" />
<path d="M754,1696.8 L756.2,1695.5 L758.3,1694.2 L760.5,1692.9 L762.7,1691.6 L764.8,1690.4 L767,1689.1 L769.2,1687.8 L771.4,1686.5 L773.6,1685.3 L775.7,1684 L777.9,1682.8 L780.1,1681.5 L782.3,1680.3 L784.5,1679 L786.7,1677.8 L788.9,1676.5 L791.1,1675.3 L793.3,1674.1 L795.5,1672.8 L797.7,1671.6 L799.9,1670.4 L802.1,1669.2 L804.3,1667.9 L806.5,1666.7 L808.7,1665.5 L810.9,1664.3 L813.1,1663.1 L815.3,1661.9 L817.5,1660.7 L819.7,1659.5 L822,1658.3 L824.2,1657.1 L826.4,1655.9 L828.6,1654.7 L830.8,1653.5 L833,1652.3 L835.3,1651.2 L837.5,1650 L839.7,1648.8 L841.9,1647.6 L844.2,1646.4 L846.4,1645.3 L848.6,1644.1 L850.8,1642.9 L853.1,1641.8 L855.3,1640.6 L857.5,1639.4 L859.7,1638.3 L862,1637.1 L864.2,1635.9 L866.4,1634.8 L868.7,1633.6 L870.9,1632.4 L873.1,1631.3 L875.4,1630.1 L877.6,1629 L879.8,1627.8 L882,1626.7 L884.3,1625.5 L886.5,1624.3 L888.7,1623.2 L891,1622 L893.2,1620.9 L895.4,1619.7 L897.7,1618.6 L899.9,1617.4 L902.1,1616.3 L904.4,1615.1 L906.6,1614 L908.8,1612.8 L911.1,1611.6 L913.3,1610.5 L915.5,1609.3 L917.8,1608.2 L920,1607 L922.2,1605.9 L924.5,1604.7 L926.7,1603.6 L928.9,1602.4 L931.2,1601.2 L933.4,1600.1 L935.6,1598.9 L937.8,1597.8 L940.1,1596.6 L942.3,1595.4 L944.5,1594.3 L946.7,1593.1 L949,1591.9 L951.2,1590.8 L953.4,1589.6 L955.6,1588.4 L957.9,1587.2 L960.1,1586.1 L962.3,1584.9 L964.5,1583.7 L966.7,1582.5 L969,1581.3 L971.2,1580.2 L973.4,1579 L975.6,1577.8 L977.8,1576.6 L980,1575.4 L982.2,1574.2 L984.4,1573 L986.6,1571.8 L988.9,1570.6 L991.1,1569.4 L993.3,1568.2 L995.5,1567 L997.7,1565.8 L999.9,1564.6 L1002.1,1563.3 L1004.3,1562.1 L1006.4,1560.9 L1008.6,1559.7 L1010.8,1558.4 L1013,1557.2 L1015.2,1556 L1017.4,1554.7 L1019.6,1553.5 L1021.8,1552.2 L1024,1551 L1026.1,1549.7 L1028.3,1548.5 L1030.5,1547.2 L1032.7,1546 L1034.8,1544.7 L1037,1543.4 L1039.2,1542.2 L1041.4,1540.9 L1043.5,1539.6 L1045.7,1538.4 L1047.9,1537.1 L1050,1535.8 L1052.2,1534.5 L1054.4,1533.2 L1056.5,1531.9 L1058.7,1530.6 L1060.9,1529.4 L1063,1528.1 L1065.2,1526.8 L1067.3,1525.4 L1069.5,1524.1 L1071.7,1522.8 L1073.8,1521.5 L1076,1520.2 L1078.1,1518.9 L1080.3,1517.6 L1082.4,1516.2 L1084.5,1514.9 L1086.7,1513.6 L1088.8,1512.2 L1091,1510.9 L1093.1,1509.6 L1095.2,1508.2 L1097.4,1506.9 L1099.5,1505.5 L1101.6,1504.1 L1103.8,1502.8 L1105.9,1501.4 L1108,1500.1 L1110.1,1498.7 L1112.2,1497.3 L1114.3,1495.9 L1116.5,1494.6 L1118.6,1493.2 L1120.7,1491.8 L1122.8,1490.4 L1124.9,1489 L1127,1487.6 L1129.1,1486.2 L1131.2,1484.8 L1133.3,1483.4 L1135.3,1481.9 L1137.4,1480.5 L1139.5,1479.1 L1141.6,1477.7 L1143.6,1476.2 L1145.7,1474.8 L1147.8,1473.3 L1149.8,1471.9 L1151.9,1470.4 L1153.9,1468.9 L1155.9,1467.4 L1158,1466 L1160,1464.5 L1162,1463 L1164,1461.5 L1166,1459.9 L1168,1458.4 L1170,1456.9 L1172,1455.4 L1174,1453.8 L1176,1452.3 L1177.9,1450.7 L1179.9,1449.1 L1181.8,1447.6 L1183.8,1446 L1185.7,1444.4 L1187.6,1442.8 L1189.5,1441.1 L1191.4,1439.5 L1193.3,1437.9 L1195.2,1436.2 L1197.1,1434.6 L1199,1432.9 L1200.8,1431.2 L1202.7,1429.6 L1204.5,1427.9 L1206.3,1426.2 L1208.1,1424.4 L1210,1422.7 L1211.7,1421 L1213.5,1419.2 L1215.3,1417.4 L1217.1,1415.7 L1218.8,1413.9 L1220.5,1412.1 L1222.3,1410.2 L1224,1408.4 L1225.7,1406.6 L1227.4,1404.7 L1229,1402.8 L1230.7,1401 L1232.4,1399.1 L1234,1397.2 L1235.6,1395.2 L1237.2,1393.3 L1238.8,1391.3 L1240.4,1389.4 L1242,1387.4 L1243.5,1385.4" fill="none" stroke="#141414" stroke-width="2.2" stroke-dasharray="10 11.8" stroke-linejoin="round" />
<path d="M754,1696.8 L756.5,1696.3 L758.9,1695.9 L761.4,1695.4 L763.8,1695 L766.3,1694.5 L768.7,1694.1 L771.2,1693.6 L773.6,1693.2 L776.1,1692.7 L778.6,1692.3 L781,1691.9 L783.5,1691.4 L786,1691 L788.4,1690.6 L790.9,1690.1 L793.4,1689.7 L795.9,1689.3 L798.3,1688.9 L800.8,1688.4 L803.3,1688 L805.8,1687.6 L808.2,1687.2 L810.7,1686.7 L813.2,1686.3 L815.7,1685.9 L818.2,1685.5 L820.7,1685.1 L823.1,1684.7 L825.6,1684.2 L828.1,1683.8 L830.6,1683.4 L833.1,1683 L835.6,1682.6 L838.1,1682.2 L840.6,1681.8 L843.1,1681.4 L845.5,1680.9 L848,1680.5 L850.5,1680.1 L853,1679.7 L855.5,1679.3 L858,1678.9 L860.5,1678.5 L863,1678.1 L865.5,1677.6 L868,1677.2 L870.5,1676.8 L873,1676.4 L875.5,1676 L878,1675.6 L880.5,1675.2 L883,1674.7 L885.5,1674.3 L888,1673.9 L890.5,1673.5 L893,1673.1 L895.5,1672.6 L898,1672.2 L900.5,1671.8 L903,1671.4 L905.5,1670.9 L908,1670.5 L910.5,1670.1 L913,1669.6 L915.5,1669.2 L918,1668.8 L920.5,1668.3 L923,1667.9 L925.5,1667.4 L928,1667 L930.5,1666.6 L933,1666.1 L935.5,1665.7 L938,1665.2 L940.5,1664.8 L943,1664.3 L945.5,1663.8 L948,1663.4 L950.5,1662.9 L953,1662.4 L955.4,1662 L957.9,1661.5 L960.4,1661 L962.9,1660.5 L965.4,1660.1 L967.9,1659.6 L970.4,1659.1 L972.9,1658.6 L975.4,1658.1 L977.9,1657.6 L980.3,1657.1 L982.8,1656.6 L985.3,1656.1 L987.8,1655.6 L990.3,1655 L992.8,1654.5 L995.2,1654 L997.7,1653.5 L1000.2,1652.9 L1002.7,1652.4 L1005.1,1651.9 L1007.6,1651.3 L1010.1,1650.8 L1012.6,1650.2 L1015,1649.7 L1017.5,1649.1 L1020,1648.5 L1022.4,1648 L1024.9,1647.4 L1027.4,1646.8 L1029.8,1646.2 L1032.3,1645.6 L1034.7,1645 L1037.2,1644.4 L1039.6,1643.8 L1042.1,1643.2 L1044.6,1642.6 L1047,1642 L1049.4,1641.3 L1051.9,1640.7 L1054.3,1640.1 L1056.8,1639.4 L1059.2,1638.8 L1061.7,1638.1 L1064.1,1637.5 L1066.5,1636.8 L1069,1636.1 L1071.4,1635.5 L1073.8,1634.8 L1076.3,1634.1 L1078.7,1633.4 L1081.1,1632.7 L1083.5,1632 L1085.9,1631.3 L1088.4,1630.5 L1090.8,1629.8 L1093.2,1629.1 L1095.6,1628.3 L1098,1627.6 L1100.4,1626.8 L1102.8,1626 L1105.2,1625.3 L1107.6,1624.5 L1110,1623.7 L1112.3,1622.9 L1114.7,1622.1 L1117.1,1621.3 L1119.5,1620.4 L1121.8,1619.6 L1124.2,1618.7 L1126.5,1617.9 L1128.9,1617 L1131.2,1616.1 L1133.6,1615.2 L1135.9,1614.3 L1138.3,1613.4 L1140.6,1612.5 L1142.9,1611.6 L1145.2,1610.6 L1147.5,1609.7 L1149.8,1608.7 L1152.1,1607.7 L1154.4,1606.7 L1156.7,1605.7 L1159,1604.6 L1161.2,1603.6 L1163.5,1602.6 L1165.8,1601.5 L1168,1600.4 L1170.2,1599.3 L1172.5,1598.2 L1174.7,1597.1 L1176.9,1595.9 L1179.1,1594.8 L1181.3,1593.6 L1183.5,1592.4 L1185.7,1591.2 L1187.9,1590 L1190,1588.8 L1192.2,1587.5 L1194.4,1586.2 L1196.5,1584.9 L1198.6,1583.6 L1200.7,1582.3 L1202.9,1581 L1205,1579.6 L1207.1,1578.3 L1209.1,1576.9 L1211.2,1575.4 L1213.3,1574 L1215.3,1572.6 L1217.4,1571.1 L1219.4,1569.6 L1221.4,1568.1 L1223.4,1566.6 L1225.4,1565 L1227.4,1563.5 L1229.4,1561.9 L1231.4,1560.3 L1233.3,1558.6 L1235.3,1557 L1237.2,1555.3 L1239.1,1553.6 L1241,1551.9 L1242.9,1550.2 L1244.8,1548.4 L1246.6,1546.6 L1248.5,1544.8" fill="none" stroke="#141414" stroke-width="2.2" stroke-linejoin="round" />
<path d="M754,1696.8 L756.5,1696.5 L759,1696.2 L761.5,1695.9 L764,1695.7 L766.5,1695.4 L769,1695.1 L771.5,1694.8 L774,1694.5 L776.5,1694.2 L779,1693.9 L781.5,1693.6 L784,1693.3 L786.5,1693 L789,1692.7 L791.5,1692.4 L794,1692.1 L796.5,1691.8 L799,1691.5 L801.4,1691.2 L803.9,1690.9 L806.4,1690.6 L808.9,1690.3 L811.4,1690 L813.9,1689.7 L816.4,1689.3 L818.9,1689 L821.4,1688.7 L823.9,1688.4 L826.4,1688.1 L828.9,1687.8 L831.4,1687.5 L833.9,1687.1 L836.4,1686.8 L838.9,1686.5 L841.4,1686.2 L843.9,1685.8 L846.4,1685.5 L848.9,1685.2 L851.4,1684.9 L853.9,1684.5 L856.4,1684.2 L858.9,1683.9 L861.4,1683.5 L863.9,1683.2 L866.4,1682.9 L868.9,1682.5 L871.4,1682.2 L873.9,1681.9 L876.4,1681.5 L878.9,1681.2 L881.4,1680.8 L883.9,1680.5 L886.4,1680.2 L888.9,1679.8 L891.4,1679.5 L893.9,1679.1 L896.4,1678.8 L898.9,1678.4 L901.4,1678.1 L903.9,1677.7 L906.4,1677.4 L908.9,1677 L911.4,1676.6 L913.9,1676.3 L916.4,1675.9 L918.9,1675.6 L921.4,1675.2 L923.9,1674.8 L926.4,1674.5 L928.9,1674.1 L931.4,1673.7 L933.9,1673.4 L936.4,1673 L938.9,1672.6 L941.4,1672.2 L943.9,1671.9 L946.4,1671.5 L948.9,1671.1 L951.4,1670.7 L953.9,1670.4 L956.4,1670 L958.9,1669.6 L961.4,1669.2 L963.9,1668.8 L966.4,1668.4 L968.9,1668 L971.4,1667.7 L973.9,1667.3 L976.4,1666.9 L978.9,1666.5 L981.4,1666.1 L983.9,1665.7 L986.4,1665.3 L988.9,1664.9 L991.4,1664.5 L993.9,1664.1 L996.4,1663.7 L998.9,1663.3 L1001.4,1662.9 L1003.9,1662.4 L1006.4,1662 L1008.9,1661.6 L1011.4,1661.2 L1013.9,1660.8 L1016.4,1660.4 L1018.9,1660 L1021.4,1659.5 L1023.9,1659.1 L1026.4,1658.7 L1028.9,1658.3 L1031.4,1657.8 L1033.9,1657.4 L1036.4,1657 L1038.9,1656.6 L1041.4,1656.1 L1043.9,1655.7 L1046.4,1655.2 L1048.9,1654.8 L1051.4,1654.4 L1053.9,1653.9 L1056.4,1653.5 L1058.9,1653 L1061.4,1652.6 L1063.9,1652.2 L1066.4,1651.7 L1068.9,1651.3 L1071.4,1650.8 L1073.9,1650.3 L1076.4,1649.9 L1078.9,1649.4 L1081.4,1648.9 L1083.9,1648.5 L1086.4,1648 L1088.8,1647.5 L1091.3,1647 L1093.8,1646.5 L1096.3,1646 L1098.8,1645.5 L1101.2,1645 L1103.7,1644.4 L1106.2,1643.9 L1108.6,1643.3 L1111.1,1642.8 L1113.6,1642.2 L1116,1641.7 L1118.5,1641.1 L1120.9,1640.5 L1123.3,1639.9 L1125.8,1639.2 L1128.2,1638.6 L1130.6,1638 L1133.1,1637.3 L1135.5,1636.7 L1137.9,1636 L1140.3,1635.3 L1142.7,1634.6 L1145.1,1633.9 L1147.4,1633.1 L1149.8,1632.4 L1152.2,1631.6 L1154.5,1630.8 L1156.9,1630 L1159.2,1629.2 L1161.6,1628.4 L1163.9,1627.5 L1166.2,1626.6 L1168.6,1625.7 L1170.9,1624.8 L1173.2,1623.9 L1175.4,1623 L1177.7,1622 L1180,1621 L1182.3,1620 L1184.5,1619 L1186.7,1617.9 L1189,1616.9 L1191.2,1615.8 L1193.4,1614.7 L1195.6,1613.5 L1197.8,1612.4 L1200,1611.2 L1202.1,1610 L1204.3,1608.7 L1206.4,1607.5 L1208.6,1606.2 L1210.7,1604.9 L1212.8,1603.6 L1214.9,1602.2 L1217,1600.8 L1219.1,1599.4 L1221.1,1598 L1223.2,1596.5 L1225.2,1595 L1227.2,1593.5 L1229.2,1591.9 L1231.2,1590.3 L1233.2,1588.7 L1235.2,1587.1 L1237.1,1585.4 L1239.1,1583.7 L1241,1582 L1242.9,1580.2 L1244.8,1578.4 L1246.6,1576.6 L1248.5,1574.7" fill="none" stroke="#141414" stroke-width="2.2" stroke-dasharray="10 11.8" stroke-linejoin="round" />
<line x1="1016.9" y1="1491.1" x2="1016.9" y2="1520.5" stroke="#8a8a8a" stroke-width="1.3" stroke-linecap="butt"/>
<line x1="1016.9" y1="1491.1" x2="1054.8" y2="1530.2" stroke="#8a8a8a" stroke-width="1.3" stroke-linecap="butt"/>
<line x1="1125.7" y1="1648.8" x2="1097.6" y2="1626.8" stroke="#8a8a8a" stroke-width="1.3" stroke-linecap="butt"/>
<line x1="1125.7" y1="1648.8" x2="1130.6" y2="1642.7" stroke="#8a8a8a" stroke-width="1.3" stroke-linecap="butt"/>
<text x="1019" y="1486" font-family="Liberation Sans, sans-serif" font-size="29" font-weight="bold" text-anchor="middle" fill="#111" textLength="38" lengthAdjust="spacingAndGlyphs">3C</text>
<text x="1128.7" y="1672.5" font-family="Liberation Sans, sans-serif" font-size="29" font-weight="bold" text-anchor="middle" fill="#111" textLength="37" lengthAdjust="spacingAndGlyphs">1C</text>
</svg>
</body></html>
